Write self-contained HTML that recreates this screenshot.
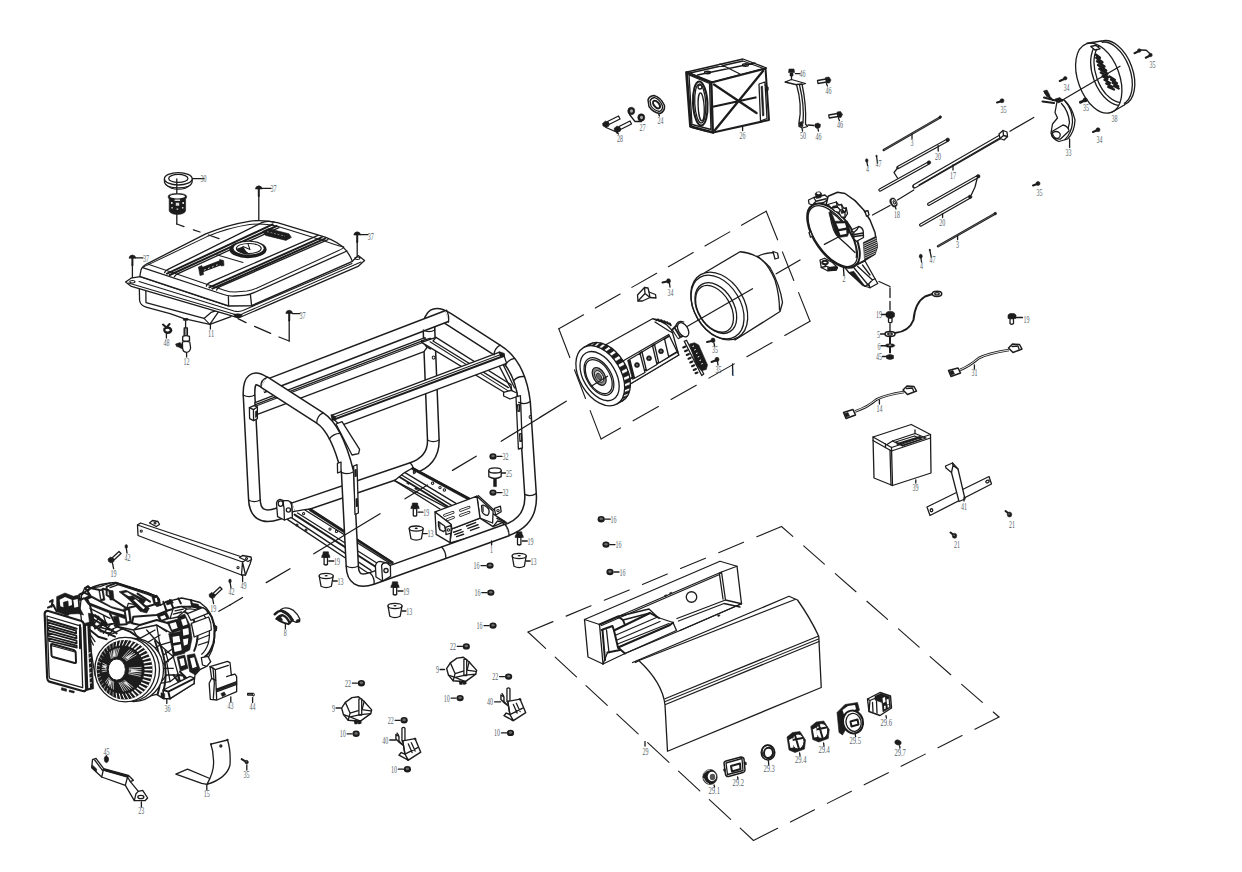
<!DOCTYPE html>
<html><head><meta charset="utf-8"><title>Generator exploded view</title>
<style>
html,body{margin:0;padding:0;background:#fff;}
body{width:1242px;height:872px;overflow:hidden;font-family:"Liberation Serif",serif;}
svg{display:block;position:absolute;left:0;top:0}
.l{fill:none;stroke:#1c1c1c;stroke-width:1.3;stroke-linecap:round;stroke-linejoin:round}
.t{fill:none;stroke:#1c1c1c;stroke-width:1.05;stroke-linecap:round;stroke-linejoin:round}
.h{fill:none;stroke:#1c1c1c;stroke-width:2;stroke-linecap:round;stroke-linejoin:round}
.w{fill:#fff;stroke:#1c1c1c;stroke-width:1.3;stroke-linecap:round;stroke-linejoin:round}
.dl{stroke-width:1.1}
.k{fill:#1c1c1c;stroke:#1c1c1c;stroke-width:.6;stroke-linejoin:round}
.g{fill:#555;stroke:#1c1c1c;stroke-width:.8}
.d{fill:none;stroke:#1c1c1c;stroke-width:1.3;stroke-dasharray:22 9}
path,ellipse,circle,rect,line,polyline,polygon{vector-effect:non-scaling-stroke}
text{font-family:"Liberation Serif",serif;font-size:10px;fill:#55646a;}
</style></head><body>
<svg width="1242" height="872" viewBox="0 0 1242 872">
<rect width="1242" height="872" fill="#fff"/>
<!-- 00.svg -->
<g></g>

<!-- 01_defs.svg -->
<defs>
<!-- small dark nut -->
<g id="nut"><ellipse cx="0" cy="0" rx="3.6" ry="3.2" fill="#1c1c1c"/><ellipse cx="0" cy="-.4" rx="1.7" ry="1.3" fill="#6a6a6a"/></g>
<!-- flange bolt vertical (head top) -->
<g id="fb"><path class="k" d="M-3.6 -1.5 L3.6 -1.5 L4.2 1 L-4.2 1Z M-2.6 -4.6 L2.6 -4.6 L3 -1.5 L-3 -1.5Z"/><path class="w" d="M-1.7 1 L-1.7 8 Q0 9.2 1.7 8 L1.7 1Z"/></g>
<!-- rubber foot -->
<g id="foot"><path class="w" d="M-7 -4 L-5.2 6.2 Q0 9 5.2 6.2 L7 -4"/><ellipse class="w" cx="0" cy="-4" rx="7" ry="2.6"/><ellipse cx="0" cy="-4.2" rx="1.6" ry=".8" fill="#1c1c1c"/></g>
<!-- small screw, head upper-left shaft toward lower-right -->
<g id="scr"><path class="k" d="M-3 -1.2 L-.6 -3 L2.2 -1.6 L1 1.2 L-1.8 1.6Z"/><path class="h" d="M1 .4 L4.2 3.4"/></g>
<!-- tank bolt 37 -->
<g id="tb"><path class="k" d="M-3.4 .4 Q-3.2 -2.4 0 -2.8 Q3.2 -2.4 3.4 .4Z"/><path class="h" d="M0 .5 L0 7.5"/></g>
</defs>

<!-- 10_tank.svg -->
<g id="tank">
<!-- cap 30 -->
<path class="l" d="M164.4 179.5 L164.6 182.6 Q166 187.6 178.3 187.9 Q190.6 187.6 192 182.6 L192.2 179.5"/>
<path class="t" d="M166 184.6 Q171 189.4 178.3 189.3 Q186 189.4 190.6 184.6"/>
<ellipse class="w" cx="178.3" cy="178.8" rx="13.9" ry="6.2"/>
<ellipse class="l" cx="178.3" cy="178.4" rx="9.6" ry="4"/>
<path class="l" d="M176.8 179 L176.8 193.5 M176.8 214 L176.8 224 "/>
<path class="l" d="M204 178.6 L192.5 178.6"/>
<text x="200.5" y="181.8" textLength="6.0" lengthAdjust="spacingAndGlyphs">30</text>
<!-- filter -->
<path class="k" d="M168.2 196.5 Q168 193.6 177.4 193.4 Q186.8 193.6 186.6 196.5 L186.4 198.2 L185.6 198.8 L185.6 211 Q184 214.4 177.4 214.4 Q170.8 214.4 169.2 211 L169.2 198.8 L168.4 198.2Z"/>
<ellipse cx="177.4" cy="196.4" rx="7.6" ry="2" fill="#fff"/>
<path d="M174.6 199.4h5.5v1.6h-5.5z M175.8 202.8h3.4v3h-3.4z M171 202h1.6v2h-1.6z M182.4 202h1.6v2h-1.6z M171.4 207h1.4v1.6h-1.4z M176.6 208.4h1.6v1.4h-1.6z M182 207h1.4v1.6h-1.4z" fill="#ddd"/>
<path class="l" d="M176.8 224 L184 226.6 M193.4 229.8 L200 232 M209 235.2 L218.4 238.4"/>
<!-- bolts 37 -->
<use href="#tb" x="258.8" y="188.6"/><path class="l" d="M258.8 196 L258.8 220"/>
<path class="l" d="M262 188.4 L271 188.4"/><text x="270.4" y="192" textLength="6.0" lengthAdjust="spacingAndGlyphs">37</text>
<use href="#tb" x="132.4" y="257.8"/><path class="l" d="M132.4 264 L132.4 281"/>
<path class="l" d="M135.6 257.8 L143 257.8"/><text x="143" y="262.4" textLength="6.0" lengthAdjust="spacingAndGlyphs">37</text>
<use href="#tb" x="357.2" y="234.6"/><path class="l" d="M357.2 241 L357.2 257"/>
<path class="l" d="M360.4 234.6 L368 234.6"/><text x="367.8" y="239.6" textLength="6.0" lengthAdjust="spacingAndGlyphs">37</text>
<use href="#tb" x="289.2" y="313"/><path class="l" d="M289.2 320 L289.2 341"/>
<path class="l" d="M292.4 313.6 L300 313.6"/><text x="299.6" y="318.8" textLength="6.0" lengthAdjust="spacingAndGlyphs">37</text>
<path class="l" d="M289.2 341 L279 337 M270.6 333.4 L254.6 326.4 M246 322.6 L238 318.6"/>
</g>

<!-- 11_tankbody.svg -->
<g id="tankbody">
<!-- lower body -->
<path class="l" d="M139.3 287.5 L139.6 300.5 Q140.4 305.4 146 307 L170 313.6 Q178 316.4 184 318.6 L209.8 324.4 L231 316.6"/>
<path class="l" d="M145.8 289.6 L146 302.6 L204 318.4 L211 312.4 L220 309.6"/>
<path class="l" d="M209.8 324.4 L218.6 311.6"/>
<path class="l" d="M218.6 311.6 L238 316.4"/>
<path class="t" d="M204 318.4 L209.8 324.4"/>
<!-- flange -->
<path class="w" d="M125.6 282 L131 278.2 L140 276.6 L228 305.8 L251.6 305.6 L352.6 261 L358.2 255.6 L364.6 260.4 L358 266.4 L243 316 Q238.4 318.6 233.6 316.4 L131.4 286.4Z"/>
<path class="t" d="M128.4 283 L232.6 313.8 Q238.4 316 243 313.6 L361 262"/>
<path class="t" d="M139 281.6 L234 311 Q238.4 312.2 243 310.4 L352 263.6"/>
<ellipse class="t" cx="132.4" cy="281.8" rx="2.6" ry="1.2"/>
<ellipse class="t" cx="357.4" cy="258.2" rx="2.6" ry="1.2"/>
<path class="k" d="M233.6 314.4 Q238 313 242.4 314.6 Q241 317.8 238 317.8 Q235 317.8 233.6 314.4Z"/>
<!-- upper body silhouette -->
<path class="w" d="M139.8 276.4 L141 270 Q142 266.6 147 263.8 L205.7 233.9 Q228 224.6 249.1 221.3 Q262 219.4 277.4 222.6 L325.2 237.2 Q339 242.4 345.4 249.6 Q350 255 352.4 261.4 L251.6 305.6 L228.6 305.8Z"/>
<!-- shoulder line (front) -->
<path class="l" d="M142.6 267.6 L222 294 Q228 296.4 234 296 L244 295.4 Q249 295 254 292.6 L347 251"/>
<path class="l" d="M228.4 296.6 L228.6 305.8 M250.4 294.6 L251.6 305.6"/>
<!-- top face inner edge -->
<path class="t" d="M149 264.4 L225 290.4 Q231 292.4 238 291.8 L247 291 Q252 290.4 256 288.4 L338.6 250.6 Q344 248 343.7 247"/>
<path class="t" d="M149 264.4 Q146 265 142.6 267.6"/>
<path class="t" d="M149 264.4 L207 236.6 Q229 227.6 249.6 224.6 Q262 223 276.6 226 L323 240.4 Q336 245 343.7 247"/>
<!-- left band -->
<path class="l" d="M164.6 272.6 Q165 270.8 168 269.4 L262 222.6 Q268 220.4 274 222"/>
<path class="h" d="M169.8 275 L276.6 226"/>
<path class="h" d="M167 273.6 L272.6 224.4"/>
<path class="l" d="M174.4 276.8 Q175 275 178 273.6 L279 227.6"/>
<!-- right band -->
<path class="l" d="M206.4 286.2 Q206.6 284 210 282.4 L318 235.4"/>
<path class="h" d="M209.4 287.4 L321.6 237.4"/>
<path class="h" d="M212.4 288.6 L325 238.6"/>
<path class="l" d="M216.6 290 Q217 288 220 286.6 L328 239.6"/>
<!-- center cross line -->
<path class="t" d="M216.6 254.8 L243 262.4"/>
<!-- cap hole -->
<ellipse cx="248" cy="249.4" rx="18.6" ry="8.8" fill="#1c1c1c"/>
<ellipse cx="248.6" cy="248.2" rx="15" ry="6.4" fill="#fff"/>
<ellipse class="t" cx="248.8" cy="248.4" rx="12.4" ry="5"/>
<path d="M236 249 Q240 254.6 250 254.6 Q245 251 243 246.6Z" fill="#1c1c1c"/>
<path class="t" d="M243 246.6 L250 249.6 L248 244"/>
<!-- gauge -->
<path class="k" d="M262.4 231.4 L268.4 228.6 L289 233.8 L291.4 237.4 L286 240.4 L265.6 235.4Z"/>
<path d="M267 231.6 L285 236.2" stroke="#aaa" stroke-width=".7" stroke-dasharray="2 1.6" fill="none"/>
<!-- logo -->
<path d="M200.6 270.4 L221.6 262.4" stroke="#1c1c1c" stroke-width="5" fill="none"/>
<path class="k" d="M198.4 267 L202 265.6 L203.6 274.6 L200 275.6Z M219.6 259.4 L223.6 260.6 L224 265.6 L221 266Z"/>
<path d="M204 270.2l1.6-.7 M208 268.6l1.6-.7 M212 267l1.6-.7 M216 265.4l1.6-.7" stroke="#fff" stroke-width=".8"/>
<!-- leader 11 -->
<path class="l" d="M210.4 324.6 L210.4 329"/><text x="208" y="337.4" textLength="6.0" lengthAdjust="spacingAndGlyphs">11</text>
<!-- clamp 48 -->
<path class="h" d="M163 324.6 L166.4 327.4 L169.6 324 M164.4 328.4 Q163.6 331.6 166.8 333 Q170.4 333.4 171.4 330.4 Q171 327.6 167.6 327.2"/>
<ellipse class="l" cx="167.4" cy="330.2" rx="3" ry="2"/>
<path class="l" d="M166.4 334 L166.4 338"/><text x="163.4" y="346.4" textLength="6.0" lengthAdjust="spacingAndGlyphs">48</text>
<!-- valve 12 -->
<path class="k" d="M183 318.4 L188 318.6 L187.4 320.4 L183.6 320.4Z"/>
<path class="l" d="M185.6 321 L185.6 328"/>
<path class="w" d="M184.2 328 L187.4 328 L187.4 336 L184.2 336Z"/>
<path class="t" d="M184.2 330h3.2 M184.2 332h3.2 M184.2 334h3.2"/>
<path class="w" d="M182.8 336.4 Q186 334.8 189.4 336.4 L189.6 340.6 Q186 342.4 182.6 340.6Z"/>
<path class="k" d="M175.6 344 L180 342.6 L183.4 345.4 L184.4 349 L181.4 348.6 L178.6 347 L176.6 346.6Z"/>
<path class="w" d="M182.4 342 Q186 340.6 189.8 342 L190.6 348 Q190 352 186.4 352.4 Q183 352 182.6 348.4Z"/>
<path class="l" d="M186.6 353 L186.6 357"/><text x="183.6" y="364.6" textLength="6.0" lengthAdjust="spacingAndGlyphs">12</text>
</g>

<!-- 12_tankdash.svg -->
<g><path class="l" d="M208.6 235 L219 238.6"/></g>

<!-- 20_frame_back.svg -->
<g id="frame">
<path d="M507 530 Q532.5 520.8 530.5 494 L524.5 402 C521 374 510 358 497 350 L448 318.5 Q428.5 306 429 330 L433.3 440 Q433.8 460.7 412 468.2 L294 508.4" fill="none" stroke="#1c1c1c" stroke-width="13.1" stroke-linecap="butt" stroke-linejoin="round" />
<path d="M507 530 Q532.5 520.8 530.5 494 L524.5 402 C521 374 510 358 497 350 L448 318.5 Q428.5 306 429 330 L433.3 440 Q433.8 460.7 412 468.2 L294 508.4" fill="none" stroke="#fff" stroke-width="10.1" stroke-linecap="butt" stroke-linejoin="round" />
<path d="M262 387.2 L447 316" fill="none" stroke="#1c1c1c" stroke-width="12.9" stroke-linecap="butt" stroke-linejoin="round" />
<path d="M262 387.2 L447 316" fill="none" stroke="#fff" stroke-width="9.9" stroke-linecap="butt" stroke-linejoin="round" />
<path class="l" d="M446.6 310.2 Q449.6 316 448.4 322"/>
<path d="M294 508.4 L278 513.8 Q254.8 521.7 254.3 498 L249 394 Q248.6 372 264 382" fill="none" stroke="#1c1c1c" stroke-width="13.1" stroke-linecap="butt" stroke-linejoin="round" />
<path d="M294 508.4 L278 513.8 Q254.8 521.7 254.3 498 L249 394 Q248.6 372 264 382" fill="none" stroke="#fff" stroke-width="10.1" stroke-linecap="butt" stroke-linejoin="round" />
</g>

<!-- 24_frame_rails.svg -->
<g id="rails">
<!-- angle iron 1 under rail 1: from left post to back post -->
<path class="w" d="M255 402.6 L425 337.6 L425.6 340 L428 341 L428 346 L424 351.6 L257.4 414.4 L255.4 413Z"/>
<path class="l" d="M255.4 404.6 L425.6 339.6"/>
<path class="t" d="M256 406 L424 342"/>
<!-- bracket at back post -->
<path class="w" d="M421.6 340.8 L430 338.4 L434.6 341 L434.4 347 L430.4 349 L426.4 346.6Z"/>
<path class="l" d="M426.4 346.6 L426.6 342.6 L434.6 341 M426.6 342.6 L421.6 340.8"/>
<ellipse class="t" cx="433.6" cy="357.6" rx="1.4" ry="1.6"/>
<!-- diagonal brace back post -> right post -->
<path class="w" d="M432.4 338.6 L436 337.4 L511 384.6 L512.4 398 L509.6 398.4 L507 394 L421.6 342.4 Z"/>
<path class="l" d="M436 337.4 L433 341 L508.4 387.6"/>
<path class="t" d="M430 341.8 L509 391.4"/>
<path class="l" d="M499 365.6 L512 390.6 M503 364.4 L514.6 388"/>
<!-- right bracket + strap on right post -->
<path class="w" d="M503.6 392.4 L511 390.4 L517 393 L517 396.6 L510 399 L503.6 396Z"/>
<path class="w" d="M516 397 L520.4 395.6 L522.4 448 L518.4 449Z"/>
<path class="l" d="M517.6 405 L519.4 404.6 L519.8 411 L518 411.4Z M519.6 434 L521.4 433.6 L521.8 441 L520 441.4Z"/>
<ellipse class="t" cx="530.4" cy="417" rx="1.3" ry="1.5"/>
</g>

<!-- 25_frame_rails2.svg -->
<g id="rails2">
<!-- bottom cross rail B (back/right) -->
<path class="w" d="M394.6 480.6 L404.6 472.6 L412.6 468 L470 499 L505 521.6 L499 529 L455 512 Z"/>
<path class="h" d="M412.6 468 L470 499"/>
<path class="k" d="M412.6 467.6 L470 498.6 L468.6 500.2 L411.4 469.2Z"/>
<path class="l" d="M405 472.6 L456 503.4 M401.6 475 L452 505.6"/>
<path class="h" d="M399.6 477 L449 507.4"/>
<path class="l" d="M394.6 480.6 L440 509"/>
<circle class="t" cx="414.4" cy="472" r="1.2"/><circle class="t" cx="432.6" cy="483.2" r="1.2"/><circle class="t" cx="440" cy="487.6" r="1.2"/><circle class="t" cx="444.4" cy="490" r="1.2"/>
<path class="k" d="M407.6 482 l2.4 1.2 l-1 1.2 l-2.4 -1.2Z M415.6 487.6 l2.4 1.2 l-1 1.2 l-2.4 -1.2Z"/>
<!-- bottom cross rail A (front/left) -->
<path class="w" d="M287.6 519.6 L293 511.6 L304.6 509.6 L311 509 L393 562.4 L392 568 L368 573Z"/>
<path class="h" d="M294.6 514.6 L376 567"/>
<path class="l" d="M291 517.4 L371 570.4 M297.6 513 L380 565 M305 510 L391 564"/>
<circle class="t" cx="303.6" cy="513.6" r="1.1"/><circle class="t" cx="330" cy="529" r="1.1"/><circle class="t" cx="336.4" cy="531.4" r="1.1"/><circle class="t" cx="306" cy="530" r="1"/><circle class="t" cx="297" cy="525" r="1"/>
<path class="k" d="M310.6 509 L393 562.4 L391.6 563.6 L309 510.4Z"/>
<!-- left bracket at bottom-back tube -->
<path class="w" d="M276.6 505 Q276 500.6 280 499.4 L283.6 500.6 L291.6 502.4 L292.4 517 L284.4 520 L277.6 516.6Z"/>
<path class="w" d="M283.6 500.6 Q283 504 284 508 L284.4 520 L292.4 517 L291.6 505 Q290 500 286.6 500.6Z"/>
<circle class="l" cx="288.4" cy="510" r="2.1"/>
<ellipse class="l" cx="280.6" cy="503.6" rx="2.4" ry="2.8"/>
<!-- second top rail (square) -->
<path class="w" d="M331.4 415.4 L499 352.4 L503.6 354.4 L506.6 363.4 L340.6 425.6 L335 420.4Z"/>
<path class="h" d="M334.4 419.4 L503.6 356"/>
<path class="t" d="M333 417.4 L501.6 354.2"/>
<path class="k" d="M331 414.6 L335.6 416.6 L336 420 L332 420.4Z M499 351.6 L504.4 353.4 L504.6 357 L500 356Z"/>
<!-- small plate under top-front tube near front-right post -->
<path class="w" d="M336 424 L342 421.6 L359.6 449.4 L358.6 453.6 L352 455Z"/>
</g>

<!-- 26_tray.svg -->
<g id="tray">
<!-- floor -->
<path class="w" d="M451.9 528.9 L480 518.1 L493 526.6 L503 522.4 L505 527.6 L450 543Z"/>
<!-- right wall inside -->
<path class="w" d="M476.9 496.2 L493.1 511.2 L492.6 523 L480 518.1Z"/>
<path class="l" d="M478.2 495.6 L494.2 510.2"/>
<!-- back wall inside -->
<path class="w" d="M435 511.9 L476.9 496.2 L480 518.1 L451.9 528.9 L451.2 524.4Z"/>
<!-- left wall outside -->
<path class="w" d="M435 511.9 L451.2 524.4 L450 542.6 L436.2 534.4Z"/>
<!-- D cutout -->
<path class="l" d="M438.4 521.6 L444.6 526 L445.4 530 L443.6 531.6 L439.6 529.6 Q438 526 438.4 521.6Z"/>
<path class="t" d="M439.8 523.6 L439.8 529.4"/>
<!-- front-left tab -->
<path class="w" d="M445.6 527.4 L451.2 525.4 L451 533 L446 534.6Z"/>
<circle class="t" cx="448.4" cy="530" r="1.2"/>
<!-- slots back wall -->
<g fill="none" stroke="#1c1c1c" stroke-width="1.1" stroke-linecap="round">
<path d="M444.6 515.4 L453 512.4 M447.4 519.6 L453.4 517.4 M460.6 510.4 L469 507.2 M460.6 515.4 L469 512.2" stroke-width="2.8"/>
<path d="M444.6 515.4 L453 512.4 M447.4 519.6 L453.4 517.4 M460.6 510.4 L469 507.2 M460.6 515.4 L469 512.2" stroke="#fff" stroke-width="1.2"/>
</g>
<!-- floor slots -->
<g fill="none" stroke="#1c1c1c" stroke-width="1.5" stroke-linecap="round">
<path d="M453.6 532.2 L461 529.6 M454.8 534.6 L463 531.6 M456.6 536.6 L463.6 534.2"/>
<path d="M466.6 526 L475.6 522.6 M468 528.4 L478 524.8 M470.6 530.4 L479 527.4"/>
</g>
<!-- teardrop -->
<path class="w" d="M481.6 505.6 Q484 503.6 488.6 509 Q490 513 487.6 515.4 Q483.6 515 482 511.4Z"/>
<path class="t" d="M483 506.6 L483.2 511.4"/>
<!-- right tab -->
<path class="w" d="M494.4 508.4 L500.4 506.2 L501.2 511.8 L495.6 515Z"/>
<circle class="t" cx="498" cy="510.6" r="1.2"/>
<path class="l" d="M493 526.6 L497.6 521 M497.6 521 L503 522.4"/>
<path class="k" d="M497 517.4 L507 522.4 L506 523.6 L496.4 518.6Z"/>
</g>

<!-- 28_frame_front.svg -->
<g id="framefront">
<path d="M264 382 L320 418 C330 424.5 340 442 347.5 472 L352.3 566 Q352.8 585 372 578.4 L507 530" fill="none" stroke="#1c1c1c" stroke-width="13.7" stroke-linecap="butt" stroke-linejoin="round" />
<path d="M264 382 L320 418 C330 424.5 340 442 347.5 472 L352.3 566 Q352.8 585 372 578.4 L507 530" fill="none" stroke="#fff" stroke-width="10.7" stroke-linecap="butt" stroke-linejoin="round" />
<path class="l" d="M243.2 395.0 Q249.0 398.2 254.8 395.0"/>
<path class="l" d="M261.1 387.4 Q260.2 379.6 267.7 377.2"/>
<path class="l" d="M316.7 423.1 Q316.6 415.8 323.3 412.9"/>
<path class="l" d="M329.3 439.0 Q333.3 433.5 340.1 433.4"/>
<path class="l" d="M341.4 472.3 Q347.5 475.4 353.6 471.7"/>
<path class="l" d="M346.2 566.0 Q352.3 569.4 358.4 566.0"/>
<path class="l" d="M374.1 584.1 Q374.8 577.4 369.9 572.7"/>
<path class="l" d="M445.9 558.4 Q446.1 551.9 441.7 547.0"/>
<path class="l" d="M509.1 535.7 Q509.3 529.2 504.9 524.3"/>
<path class="l" d="M536.3 493.6 Q530.5 497.2 524.7 494.4"/>
<path class="l" d="M530.3 401.6 Q524.5 405.2 518.7 402.4"/>
<path class="l" d="M494.0 354.9 Q494.4 348.4 500.0 345.1"/>
<path class="l" d="M505.4 365.4 Q508.2 359.5 514.6 358.4"/>
<path class="l" d="M513.6 380.7 Q518.0 375.9 524.5 376.6"/>
<path class="l" d="M423.2 330.0 Q429.0 333.2 434.8 330.0"/>
<path class="l" d="M427.5 440.0 Q433.3 443.2 439.1 440.0"/>
<path class="l" d="M410.1 462.7 Q414.5 467.4 413.9 473.7"/>
<path class="l" d="M248.5 500.0 Q254.3 503.2 260.1 500.0"/>
</g>

<!-- 29_frame_front2.svg -->
<g id="framefront2">
<!-- front bracket at front-right post bottom -->
<path class="w" d="M375.4 566.4 Q376 561.6 380 561.4 L388.6 563.4 L390.4 575 L382.4 581 L376 577Z"/>
<path class="w" d="M381.6 565.6 Q383 562 387 563 L390.4 566 L390.6 576.4 L382.6 581 Z"/>
<circle class="l" cx="386" cy="570.6" r="2.1"/>
<!-- tab brackets on front-right post -->
<path class="w" d="M337.4 463.4 L341 462 L341 471.6 L337.6 473Z"/>
<path class="w" d="M353.6 466 L357 464.6 L358.4 513 L355 514.4Z"/>
<path class="l" d="M355 470 L356 469.6 L356.2 476 L355.2 476.4Z M356.2 499 L357.2 498.6 L357.4 506 L356.4 506.4Z"/>
<!-- tab on left post -->
<path class="w" d="M249.4 407.6 L254 405.6 L257.4 407 L257.4 418.6 L253.6 420.6 L249.6 418.6Z"/>
<path class="l" d="M253.6 420.6 L253.4 409.6 L257.4 407 M253.4 409.6 L249.4 407.6"/>
<path class="k" d="M255.4 411.4 L257.2 410.6 L257.2 416.6 L255.4 417.4Z"/>
<!-- leader 1 -->
<path class="l" d="M491.6 541 L491.6 545"/><text x="490" y="552.6" textLength="3.0" lengthAdjust="spacingAndGlyphs">1</text>
</g>

<!-- 30_small.svg -->
<g id="small">
<use href="#nut" x="493.0" y="456.4" />
<path class="l" d="M497.0 456.4 L502.0 456.4"/>
<text x="502.4" y="460.0" textLength="6.0" lengthAdjust="spacingAndGlyphs">32</text>
<use href="#nut" x="493.0" y="492.6" />
<path class="l" d="M497.0 492.6 L502.0 492.6"/>
<text x="502.4" y="496.2" textLength="6.0" lengthAdjust="spacingAndGlyphs">32</text>
<path class="w" d="M488.8 470.6 L488.8 476.6 Q495 480.4 501.2 476.6 L501.2 470.6"/>
<ellipse class="w" cx="495" cy="470.4" rx="6.2" ry="2.6"/>
<path class="k" d="M493.6 478.6 L496.4 478.6 L496.4 486.6 L493.6 486.6Z"/>
<path class="l" d="M501.6 473.0 L505.6 473.0"/>
<text x="506.0" y="476.6" textLength="6.0" lengthAdjust="spacingAndGlyphs">25</text>
<use href="#fb" x="415.0" y="507.6" />
<path class="l" d="M418.0 512.2 L423.0 512.2"/>
<text x="423.2" y="516.0" textLength="6.0" lengthAdjust="spacingAndGlyphs">19</text>
<use href="#foot" x="416.2" y="532.6" />
<path class="l" d="M423.2 533.6 L427.2 533.6"/>
<text x="427.4" y="537.2" textLength="6.0" lengthAdjust="spacingAndGlyphs">13</text>
<use href="#fb" x="519.2" y="536.4" />
<path class="l" d="M522.2 541.0 L527.2 541.0"/>
<text x="527.4" y="544.8" textLength="6.0" lengthAdjust="spacingAndGlyphs">19</text>
<use href="#foot" x="519.2" y="560.0" />
<path class="l" d="M526.2 561.0 L530.2 561.0"/>
<text x="530.4" y="564.6" textLength="6.0" lengthAdjust="spacingAndGlyphs">13</text>
<use href="#fb" x="325.8" y="556.4" />
<path class="l" d="M328.8 561.0 L333.8 561.0"/>
<text x="334.0" y="564.8" textLength="6.0" lengthAdjust="spacingAndGlyphs">19</text>
<use href="#foot" x="326.2" y="580.0" />
<path class="l" d="M333.2 581.0 L337.2 581.0"/>
<text x="337.4" y="584.6" textLength="6.0" lengthAdjust="spacingAndGlyphs">13</text>
<use href="#fb" x="395.0" y="586.4" />
<path class="l" d="M398.0 591.0 L403.0 591.0"/>
<text x="403.2" y="594.8" textLength="6.0" lengthAdjust="spacingAndGlyphs">19</text>
<use href="#foot" x="395.0" y="610.0" />
<path class="l" d="M402.0 611.0 L406.0 611.0"/>
<text x="406.2" y="614.6" textLength="6.0" lengthAdjust="spacingAndGlyphs">13</text>
<use href="#nut" x="490.0" y="565.6" />
<path class="l" d="M481.0 565.6 L486.0 565.6"/>
<text x="473.6" y="569.2" textLength="6.0" lengthAdjust="spacingAndGlyphs">16</text>
<use href="#nut" x="490.8" y="592.6" />
<path class="l" d="M481.8 592.6 L486.8 592.6"/>
<text x="474.4" y="596.2" textLength="6.0" lengthAdjust="spacingAndGlyphs">16</text>
<use href="#nut" x="493.0" y="625.6" />
<path class="l" d="M484.0 625.6 L489.0 625.6"/>
<text x="476.6" y="629.2" textLength="6.0" lengthAdjust="spacingAndGlyphs">16</text>
<use href="#nut" x="601.2" y="519.2" />
<path class="l" d="M605.2 519.2 L610.2 519.2"/>
<text x="610.6" y="522.8" textLength="6.0" lengthAdjust="spacingAndGlyphs">16</text>
<use href="#nut" x="606.0" y="544.6" />
<path class="l" d="M610.0 544.6 L615.0 544.6"/>
<text x="615.4" y="548.2" textLength="6.0" lengthAdjust="spacingAndGlyphs">16</text>
<use href="#nut" x="610.0" y="572.0" />
<path class="l" d="M614.0 572.0 L619.0 572.0"/>
<text x="619.4" y="575.6" textLength="6.0" lengthAdjust="spacingAndGlyphs">16</text>
<path class="l" d="M540.0 417.5 L501.2 441.2"/>
<path class="l" d="M476.2 456.2 L452.5 470.4"/>
<path class="l" d="M427.5 485.0 L405.0 498.8"/>
<path class="l" d="M380.0 513.8 L313.8 553.8"/>
<path class="l" d="M290.0 568.8 L266.2 582.6"/>
<path class="l" d="M242.5 597.5 L230.0 605.0"/>
</g>

<!-- 40_engine.svg -->
<g id="engine" transform="translate(40,575) scale(0.16667)">
<!-- silhouette -->
<path class="w" d="M268 78 L285 66 L300 78 L360 70 L420 48 L455 44 L640 104 L700 128 L716 150 L722 182 L760 160 L850 138 L905 150 L960 165 L1000 200 L1022 232 L1046 300 L1056 320 L1046 345 L1046 400 L1030 455 L1008 500 L1024 520 L1000 548 L962 566 L930 600 L924 650 L780 742 L740 742 L700 716 L600 740 L420 700 L330 600 L300 420 L250 280 L240 200 L250 120Z"/>
<!-- right crankcase / cylinder -->
<path class="h" d="M900 190 Q985 175 1030 250 Q1060 330 1040 410 Q1020 470 990 490"/>
<path class="l" d="M880 205 Q960 195 1000 265 Q1028 335 1010 410 Q995 455 970 475"/>
<path class="l" d="M905 300 L1000 262 M915 330 L1012 300 M940 390 L1016 360 M950 420 L1012 400"/>
<path class="h" d="M860 215 Q930 250 945 330 Q950 400 925 455"/>
<path class="w" d="M885 232 L975 196 Q1000 205 1008 230 L905 272Z"/>
<path class="w" d="M908 290 L1012 252 Q1030 290 1028 330 L925 372Z"/>
<path class="l" d="M1046 300 L1060 310 L1058 332 L1046 338"/>
<path class="k" d="M826 252 L868 234 L900 300 L912 380 L898 450 L862 468 L852 380Z"/>
<path d="M846 268 L874 260 L886 296 L858 306Z M856 326 L890 318 L894 356 L860 364Z M858 386 L890 380 L886 416 L860 426Z" fill="#fff"/>
<path class="w" d="M968 496 L1008 488 L1024 520 L1000 548 L975 540Z"/>
<!-- top: valve cover -->
<path class="h" d="M400 70 L455 48 L640 106 L700 130 L716 152 L700 172 L640 190 L600 180 L520 200 L400 120Z"/>
<path class="l" d="M420 76 L470 58 L650 118 L690 136 M455 48 L470 58 M520 200 L530 170 L640 190"/>
<path class="k" d="M474 100 L516 92 L636 150 L618 176 L560 168Z"/>
<path d="M500 108 L524 104 L596 148 L582 158Z" fill="#fff"/>
<path class="k" d="M522 132 L556 124 L656 200 L640 228 L600 218Z"/>
<path d="M560 150 L574 146 L630 196 L620 206Z" fill="#fff"/>
<path class="h" d="M585 112 L660 160"/>
<path class="k" d="M672 132 L700 120 L716 142 L720 184 L700 190 L682 170Z"/>
<path d="M688 140 L700 136 L706 160 L694 164Z" fill="#fff"/>
<!-- tubes/pipe top-left -->
<path class="k" d="M262 140 L300 120 L430 190 L520 215 L540 250 L510 262 L420 230 L290 178Z"/>
<path d="M290 146 L310 138 L430 200 L505 222 L512 240 L430 218 L300 166Z" fill="#fff"/>
<path class="h" d="M270 80 L290 68 L300 82 L285 96Z M285 96 L300 122"/>
<path class="k" d="M352 88 L378 82 L390 150 L364 158Z M412 92 L438 94 L444 150 L420 150Z"/>
<path d="M360 96 L370 94 L378 140 L368 144Z" fill="#fff"/>
<path class="h" d="M236 118 L262 104 L300 122 M236 118 L240 150 L262 140 M300 78 L352 88 M378 82 L412 92"/>
<path class="l" d="M250 120 Q300 60 420 48"/>
<!-- mid body -->
<path class="k" d="M502 202 L538 198 L550 288 L517 294Z"/>
<path d="M514 214 L528 212 L536 276 L524 280Z" fill="#fff"/>
<path class="h" d="M300 180 L330 320 M320 240 L400 300 L450 290 M420 232 L455 300 M330 320 L360 300 L400 300 M350 250 L380 300 M455 300 L520 296"/>
<path class="l" d="M300 200 L420 260 M310 300 L420 330 L470 310 M360 340 L440 350 L500 320 M380 240 L400 300"/>
<path class="k" d="M290 230 L318 232 L328 300 L300 308Z"/>
<path class="k" d="M440 250 L470 246 L480 300 L452 306Z"/>
<path class="h" d="M560 250 L700 240 L760 215 L850 190 L900 190 M560 250 L552 290 L600 300"/>
<path class="k" d="M702 242 L758 220 L778 262 L720 280Z"/>
<path d="M720 250 L748 240 L758 258 L730 268Z" fill="#fff"/>
<path class="h" d="M740 160 L760 218 M780 150 L800 200 L850 190 M830 140 L845 170 M905 150 L915 188 L950 200"/>
<path class="k" d="M752 158 L790 148 L800 168 L762 180Z M905 168 L950 176 L958 200 L915 192Z"/>
<path class="w" d="M800 200 L850 190 L880 205 L826 252 L780 262Z"/>
<path class="l" d="M810 215 L860 205 M800 235 L850 222"/>
<path class="k" d="M762 282 L828 264 L848 330 L792 348Z"/>
<path d="M778 292 L815 282 L826 318 L792 328Z" fill="#fff"/>
<path class="k" d="M772 352 L848 338 L868 470 L802 488Z"/>
<path d="M790 372 L835 364 L842 400 L798 408Z M800 424 L845 416 L850 452 L808 462Z" fill="#fff"/>
<path class="h" d="M300 290 L360 330 L450 370 M310 260 L380 300 L460 350 M330 240 L400 290 M300 330 L350 370 L400 385"/>
<path class="l" d="M320 300 L350 260 M350 330 L390 280 M380 350 L420 300 M410 365 L440 325 M296 350 L330 400 M300 380 L320 420"/>
<!-- shroud facets -->
<path class="l" d="M560 330 L700 300 L790 350 L800 490 L830 600 L780 640 M700 300 L720 420 L800 490 M720 420 L640 470 M640 330 L720 420 M560 330 L640 470 L700 560 L800 490 M700 560 L720 650 L780 640 M640 470 L720 650 M600 300 L560 330 M470 310 L560 330"/>
<path class="h" d="M600 300 L700 270 L770 290 M448 304 L540 340 L600 380"/>
<path class="l" d="M600 380 L690 330 M620 420 L720 360 M700 300 L760 340 M720 420 L790 400 M740 480 L800 440 M700 560 L760 520 L800 490 M720 650 L760 600 L830 600 M760 520 L780 640 M740 560 L800 560 M750 450 L770 520"/>
<path class="h" d="M690 396 Q750 560 706 716 M716 404 Q776 560 740 700"/>
<!-- lower right engine block bits -->
<path class="k" d="M822 492 L868 480 L888 560 L842 578Z"/>
<path d="M836 504 L862 498 L870 540 L846 548Z" fill="#fff"/>
<path class="k" d="M882 482 L928 472 L960 566 L930 598 L898 580Z"/>
<path d="M900 500 L925 494 L940 550 L915 560Z" fill="#fff"/>
<path class="h" d="M830 600 L924 650 M840 580 L880 620 M800 600 L830 640"/>
<path class="k" d="M822 592 L868 602 L878 640 L832 640Z"/>
<path d="M838 606 L858 610 L862 628 L842 628Z" fill="#fff"/>
<!-- base foot -->
<path class="w" d="M740 690 L900 608 L926 618 L924 652 L780 742 L740 742Z"/>
<path class="h" d="M740 690 L770 700 L924 622 M770 700 L780 742"/>
<path class="k" d="M726 706 L748 712 L748 740 L726 734Z"/>
</g>
<g id="englabels">
<path class="l" d="M166.8 698.6 L166.8 703.4"/><text x="164.4" y="712.4" textLength="6.0" lengthAdjust="spacingAndGlyphs">36</text>
</g>

<!-- 41_fan.svg -->
<g id="fan">
<ellipse class="w" cx="133.7" cy="669.9" rx="29.8" ry="31.6"/>
<ellipse class="w" cx="129.7" cy="669.8" rx="29.8" ry="31.6"/>
<ellipse cx="125.2" cy="669.6" rx="30.4" ry="32.2" fill="#fff" stroke="#1c1c1c" stroke-width="1.3"/>
<ellipse cx="124.6" cy="669.8" rx="28.0" ry="29.8" fill="#1c1c1c"/>
<path d="M144.5 669.6 L152.4 669.6" stroke="#fff" stroke-width="1.50" fill="none"/>
<path d="M144.3 673.0 L152.1 673.8" stroke="#fff" stroke-width="1.50" fill="none"/>
<path d="M143.6 676.4 L151.2 677.9" stroke="#fff" stroke-width="1.50" fill="none"/>
<path d="M142.5 679.6 L149.9 681.9" stroke="#fff" stroke-width="1.50" fill="none"/>
<path d="M141.0 682.6 L148.0 685.6" stroke="#fff" stroke-width="1.50" fill="none"/>
<path d="M139.1 685.4 L145.6 689.0" stroke="#fff" stroke-width="1.50" fill="none"/>
<path d="M136.9 687.8 L142.8 691.9" stroke="#fff" stroke-width="1.50" fill="none"/>
<path d="M134.3 689.8 L139.6 694.5" stroke="#fff" stroke-width="1.50" fill="none"/>
<path d="M131.6 691.5 L136.1 696.5" stroke="#fff" stroke-width="1.50" fill="none"/>
<path d="M128.6 692.7 L132.4 698.0" stroke="#fff" stroke-width="1.00" fill="none"/>
<path d="M125.5 693.4 L128.6 698.9" stroke="#fff" stroke-width="1.00" fill="none"/>
<path d="M122.3 693.7 L124.6 699.2" stroke="#fff" stroke-width="1.00" fill="none"/>
<path d="M119.2 693.4 L120.7 698.9" stroke="#fff" stroke-width="1.00" fill="none"/>
<path d="M116.1 692.7 L116.8 698.0" stroke="#fff" stroke-width="1.00" fill="none"/>
<path d="M113.1 691.5 L113.1 696.5" stroke="#fff" stroke-width="0.55" fill="none"/>
<path d="M110.3 689.8 L109.6 694.5" stroke="#fff" stroke-width="0.55" fill="none"/>
<path d="M107.8 687.8 L106.4 691.9" stroke="#fff" stroke-width="0.55" fill="none"/>
<path d="M105.6 685.4 L103.6 689.0" stroke="#fff" stroke-width="0.55" fill="none"/>
<path d="M103.7 682.6 L101.3 685.6" stroke="#fff" stroke-width="0.55" fill="none"/>
<path d="M102.2 679.6 L99.4 681.9" stroke="#fff" stroke-width="0.55" fill="none"/>
<path d="M101.0 676.4 L98.0 677.9" stroke="#fff" stroke-width="0.55" fill="none"/>
<path d="M100.4 673.0 L97.1 673.8" stroke="#fff" stroke-width="0.55" fill="none"/>
<path d="M100.1 669.6 L96.9 669.6" stroke="#fff" stroke-width="0.55" fill="none"/>
<path d="M100.4 666.2 L97.1 665.4" stroke="#fff" stroke-width="0.55" fill="none"/>
<path d="M101.0 662.8 L98.0 661.3" stroke="#fff" stroke-width="0.55" fill="none"/>
<path d="M102.2 659.6 L99.4 657.3" stroke="#fff" stroke-width="0.55" fill="none"/>
<path d="M103.7 656.6 L101.3 653.6" stroke="#fff" stroke-width="0.55" fill="none"/>
<path d="M105.6 653.8 L103.6 650.2" stroke="#fff" stroke-width="0.55" fill="none"/>
<path d="M107.8 651.4 L106.4 647.3" stroke="#fff" stroke-width="0.55" fill="none"/>
<path d="M110.3 649.4 L109.6 644.7" stroke="#fff" stroke-width="0.55" fill="none"/>
<path d="M113.1 647.7 L113.1 642.7" stroke="#fff" stroke-width="0.55" fill="none"/>
<path d="M116.1 646.5 L116.8 641.2" stroke="#fff" stroke-width="1.00" fill="none"/>
<path d="M119.2 645.8 L120.7 640.3" stroke="#fff" stroke-width="1.00" fill="none"/>
<path d="M122.3 645.5 L124.6 640.0" stroke="#fff" stroke-width="1.00" fill="none"/>
<path d="M125.5 645.8 L128.6 640.3" stroke="#fff" stroke-width="1.00" fill="none"/>
<path d="M128.6 646.5 L132.4 641.2" stroke="#fff" stroke-width="1.50" fill="none"/>
<path d="M131.6 647.7 L136.1 642.7" stroke="#fff" stroke-width="1.50" fill="none"/>
<path d="M134.3 649.4 L139.6 644.7" stroke="#fff" stroke-width="1.50" fill="none"/>
<path d="M136.9 651.4 L142.8 647.3" stroke="#fff" stroke-width="1.50" fill="none"/>
<path d="M139.1 653.8 L145.6 650.2" stroke="#fff" stroke-width="1.50" fill="none"/>
<path d="M141.0 656.6 L148.0 653.6" stroke="#fff" stroke-width="1.50" fill="none"/>
<path d="M142.5 659.6 L149.9 657.3" stroke="#fff" stroke-width="1.50" fill="none"/>
<path d="M143.6 662.8 L151.2 661.3" stroke="#fff" stroke-width="1.50" fill="none"/>
<path d="M144.3 666.2 L152.1 665.4" stroke="#fff" stroke-width="1.50" fill="none"/>
<path d="M128.9 669.6 L141.6 669.6" stroke="#fff" stroke-width=".7" fill="none"/>
<path d="M128.8 671.0 L141.5 671.9" stroke="#fff" stroke-width=".7" fill="none"/>
<path d="M128.6 672.3 L141.2 674.2" stroke="#fff" stroke-width=".7" fill="none"/>
<path d="M128.3 673.6 L140.7 676.4" stroke="#fff" stroke-width=".7" fill="none"/>
<path d="M124.3 680.2 L133.3 687.4" stroke="#fff" stroke-width=".7" fill="none"/>
<path d="M123.3 680.9 L131.6 688.7" stroke="#fff" stroke-width=".7" fill="none"/>
<path d="M122.3 681.5 L129.7 689.7" stroke="#fff" stroke-width=".7" fill="none"/>
<path d="M121.2 682.0 L127.7 690.5" stroke="#fff" stroke-width=".7" fill="none"/>
<path d="M120.1 682.4 L125.7 691.1" stroke="#fff" stroke-width=".7" fill="none"/>
<path d="M119.0 682.6 L123.6 691.5" stroke="#fff" stroke-width=".7" fill="none"/>
<path d="M113.3 681.5 L113.3 689.7" stroke="#fff" stroke-width=".7" fill="none"/>
<path d="M112.3 680.9 L111.4 688.7" stroke="#fff" stroke-width=".7" fill="none"/>
<path d="M111.3 680.2 L109.7 687.4" stroke="#fff" stroke-width=".7" fill="none"/>
<path d="M110.4 679.3 L108.0 686.0" stroke="#fff" stroke-width=".7" fill="none"/>
<path d="M109.6 678.3 L106.5 684.3" stroke="#fff" stroke-width=".7" fill="none"/>
<path d="M108.9 677.3 L105.2 682.5" stroke="#fff" stroke-width=".7" fill="none"/>
<path d="M106.8 671.0 L101.5 671.9" stroke="#fff" stroke-width=".7" fill="none"/>
<path d="M106.7 669.6 L101.4 669.6" stroke="#fff" stroke-width=".7" fill="none"/>
<path d="M106.8 668.2 L101.5 667.3" stroke="#fff" stroke-width=".7" fill="none"/>
<path d="M107.0 666.9 L101.8 665.0" stroke="#fff" stroke-width=".7" fill="none"/>
<path d="M107.3 665.6 L102.4 662.8" stroke="#fff" stroke-width=".7" fill="none"/>
<path d="M111.3 659.0 L109.7 651.8" stroke="#fff" stroke-width=".7" fill="none"/>
<path d="M112.3 658.3 L111.4 650.5" stroke="#fff" stroke-width=".7" fill="none"/>
<path d="M113.3 657.7 L113.3 649.5" stroke="#fff" stroke-width=".7" fill="none"/>
<path d="M114.4 657.2 L115.3 648.7" stroke="#fff" stroke-width=".7" fill="none"/>
<path d="M115.5 656.8 L117.3 648.1" stroke="#fff" stroke-width=".7" fill="none"/>
<path d="M116.7 656.6 L119.4 647.7" stroke="#fff" stroke-width=".7" fill="none"/>
<path d="M122.3 657.7 L129.7 649.5" stroke="#fff" stroke-width=".7" fill="none"/>
<path d="M123.3 658.3 L131.6 650.5" stroke="#fff" stroke-width=".7" fill="none"/>
<path d="M124.3 659.0 L133.3 651.8" stroke="#fff" stroke-width=".7" fill="none"/>
<path d="M125.2 659.9 L135.0 653.2" stroke="#fff" stroke-width=".7" fill="none"/>
<path d="M126.0 660.9 L136.5 654.9" stroke="#fff" stroke-width=".7" fill="none"/>
<path d="M128.8 668.2 L141.5 667.3" stroke="#fff" stroke-width=".7" fill="none"/>
<path d="M126.1 681.3 L123.5 683.1 L131.4 688.5Z" fill="#fff" opacity=".8"/>
<path d="M111.5 681.9 L109.2 679.6 L108.6 686.3Z" fill="#fff" opacity=".8"/>
<path d="M105.8 668.8 L106.3 665.3 L101.8 665.8Z" fill="#fff" opacity=".8"/>
<path d="M112.7 656.5 L115.6 655.3 L114.6 649.1Z" fill="#fff" opacity=".8"/>
<path d="M125.4 657.3 L127.8 659.6 L134.2 652.9Z" fill="#fff" opacity=".8"/>
<path d="M131.2 669.1 L130.9 672.6 L141.3 671.5Z" fill="#fff" opacity=".8"/>
<ellipse cx="122.0" cy="669.6" rx="21.4" ry="23.2" fill="none" stroke="#1c1c1c" stroke-width="1.4"/>
<ellipse cx="116.8" cy="669.6" rx="8.6" ry="10.6" fill="#fff" stroke="#1c1c1c" stroke-width="1"/>
</g>

<!-- 42_airfilter.svg -->
<g id="airf" transform="translate(40,575) scale(0.16667)">
<!-- side face -->
<path class="k" d="M262 292 L300 282 L322 682 L276 694Z"/>
<path d="M276 306 L284 304 L300 676 L290 680Z" fill="#fff"/>
<path d="M290 470 l14 -4 M291 500 l14 -4 M292 530 l14 -4 M293 560 l14 -4 M294 590 l14 -4 M295 620 l14 -4 M296 650 l14 -4" stroke="#fff" stroke-width="1" fill="none"/>
<!-- front -->
<path class="w" style="stroke-width:2.2" d="M28 232 Q30 214 50 216 L248 276 Q262 282 263 298 L277 682 Q276 700 256 696 L56 640 Q44 634 43 618Z"/>
<path class="l" d="M42 246 L236 304 Q244 308 245 318 L256 676 L62 622 Q56 618 55 610Z"/>
<!-- ribs as outlined bars -->
<g fill="#fff" stroke="#1c1c1c" stroke-width="1.7" stroke-linejoin="round">
<path d="M46 284 L216 334 L217 350 L47 302Z"/>
<path d="M49 316 L218 364 L219 380 L50 334Z"/>
<path d="M51 348 L219 394 L220 410 L52 366Z"/>
<path d="M53 380 L220 424 L221 436 L54 396Z"/>
</g>
<path class="h" d="M46 270 L220 322 M240 300 L240 440"/>
<path class="w" style="stroke-width:2" d="M66 420 Q66 412 74 414 L206 452 Q214 456 214 464 L216 522 Q216 530 208 528 L78 492 Q70 488 69 480Z"/>
<path class="t" d="M72 424 L210 462"/>
<!-- top of air filter: choke/carb knobs -->
<path class="k" d="M100 130 L150 108 L200 128 L232 120 L240 200 L262 240 L230 232 L140 236 L100 220Z"/>
<path d="M118 148 L150 132 L190 148 L192 180 L150 196 L122 188Z" fill="#fff"/>
<path d="M200 150 L226 144 L230 190 L206 196Z" fill="#fff"/>
<path class="k" d="M140 164 L168 156 L174 240 L148 248Z"/>
<path class="h" d="M60 160 L76 150 L70 190 M48 196 L80 180 L100 220"/>
<path class="k" d="M130 676 L160 684 L158 698 L128 690Z M176 690 L206 698 L204 708 L174 700Z"/>
</g>

<!-- 45_leftparts.svg -->
<g id="p43" transform="translate(70,650) scale(0.16667)">
<path class="w" d="M840 100 L945 68 L960 76 L968 150 L990 145 L1000 160 L1000 250 L882 300 L842 296 L835 200 L850 170Z"/>
<path class="l" d="M840 100 L872 118 L880 296 M872 118 L950 92 M850 170 L876 184 M968 150 L940 160 M876 236 L1000 190 M878 252 L1000 206 M878 244 L1000 198"/>
<path class="l" d="M858 108 L866 200 L860 290"/>
<path class="k" d="M905 262 L925 252 L935 268 L915 280Z"/>
<!-- 15 heat shield -->
<path class="w" d="M635 745 L705 715 L846 774 L822 806 L790 800Z"/>
<path class="w" d="M845 565 L945 540 Q965 600 960 690 Q940 770 822 806 Q870 720 860 650 Q858 600 845 565Z"/>
<circle class="l" cx="905" cy="576" r="6"/>
<path class="k" d="M940 536 l8 -2 l2 8 l-8 2Z M842 562 l6 -2 l2 8 l-6 2Z"/>
<!-- 44 screw -->
<path class="w" d="M1066 260 L1096 260 L1096 270 L1066 270Z"/>
<ellipse class="k" cx="1100" cy="268" rx="7" ry="9"/><ellipse cx="1100" cy="268" rx="3" ry="4" fill="#fff"/>
<!-- 35 screw -->
<path class="h" d="M1030 655 L1052 668" style="stroke-width:2"/>
<ellipse class="k" cx="1060" cy="673" rx="10" ry="11"/><ellipse cx="1058" cy="670" rx="3" ry="3" fill="#888"/>
</g>
<g id="p43l">
<path class="l" d="M230.8 697 L230.8 702"/><text x="227.6" y="708.6" textLength="6.0" lengthAdjust="spacingAndGlyphs">43</text>
<path class="l" d="M252.6 697.6 L252.6 702.6"/><text x="249.4" y="710" textLength="6.0" lengthAdjust="spacingAndGlyphs">44</text>
<path class="l" d="M206.8 785 L206.8 790"/><text x="203.8" y="797" textLength="6.0" lengthAdjust="spacingAndGlyphs">15</text>
<path class="l" d="M246.8 765 L246.8 770"/><text x="243.6" y="777.6" textLength="6.0" lengthAdjust="spacingAndGlyphs">35</text>
</g>
<g id="p23" transform="translate(70,727) scale(0.16667)">
<path class="w" d="M130 245 L135 196 L156 188 L202 250 L350 290 L380 320 L362 328 L410 386 L436 380 L466 426 L450 442 L386 442 L332 350 L190 300Z"/>
<path class="l" d="M202 250 L190 300 M210 262 L345 300 L362 328 M345 300 L332 350 M148 198 L196 262 M362 328 L345 300"/>
<path class="k" d="M134 228 L160 252 L158 270 L132 246Z"/>
<path class="h" d="M205 256 L348 296"/>
<ellipse class="l" cx="425" cy="420" rx="18" ry="10"/>
<path class="l" d="M386 442 L396 400 L410 386"/>
<path class="k" d="M206 186 Q206 176 218 176 Q232 178 232 192 Q232 212 218 214 Q206 210 206 198Z"/>
</g>
<g id="p23l">
<path class="l" d="M141.4 802 L141.4 807"/><text x="138.2" y="814.4" textLength="6.0" lengthAdjust="spacingAndGlyphs">23</text>
<path class="l" d="M106.4 755.6 L106.4 757.4"/><text x="103.4" y="754.8" textLength="6.0" lengthAdjust="spacingAndGlyphs">45</text>
</g>

<!-- 46_bar49.svg -->
<g id="bar49" transform="translate(30,500) scale(0.25)">
<!-- tab left -->
<path class="w" d="M478 92 L490 82 L512 86 L518 98 L505 106Z"/>
<circle class="t" cx="500" cy="92" r="4"/>
<!-- bar -->
<path class="w" d="M430 100 L442 92 L872 236 L886 236 L880 256 L862 300 L846 300 L432 142Z"/>
<path class="l" d="M430 100 L850 248 L846 300 M850 248 L872 236 M850 248 L862 300"/>
<circle class="t" cx="445" cy="124" r="4.4"/><circle class="t" cx="832" cy="270" r="4.4"/>
<path class="w" d="M838 230 L850 222 L884 228 L886 238 L872 246Z"/>
<circle class="t" cx="866" cy="234" r="4"/>
<!-- bolts 19 -->
<path class="w" d="M328 232 L356 206 L364 214 L336 240Z"/>
<path class="k" d="M312 236 L322 228 L334 234 L336 246 L324 252 L314 246Z"/>
<path class="w" d="M732 374 L760 348 L768 356 L740 382Z"/>
<path class="k" d="M716 378 L726 370 L738 376 L740 388 L728 394 L718 388Z"/>
<!-- washers 42 -->
<ellipse class="k" cx="385" cy="186" rx="5" ry="8"/><ellipse class="k" cx="800" cy="324" rx="5" ry="8"/>
</g>
<g id="bar49l">
<path class="l" d="M112.4 562.6 L113.6 568.6"/><text x="110.4" y="576.6" textLength="6.0" lengthAdjust="spacingAndGlyphs">19</text>
<path class="l" d="M126.4 548.6 L127 553"/><text x="124.6" y="560.6" textLength="6.0" lengthAdjust="spacingAndGlyphs">42</text>
<path class="l" d="M212.6 598.4 L213.6 603.6"/><text x="210.2" y="611.6" textLength="6.0" lengthAdjust="spacingAndGlyphs">19</text>
<path class="l" d="M230.2 583 L231 588"/><text x="228.4" y="595.4" textLength="6.0" lengthAdjust="spacingAndGlyphs">42</text>
<path class="l" d="M242.6 575.4 L242.6 581.4"/><text x="240.4" y="589.4" textLength="6.0" lengthAdjust="spacingAndGlyphs">49</text>
<path class="l" d="M285.4 623.6 L285.4 628.6"/><text x="283.8" y="636" textLength="3.0" lengthAdjust="spacingAndGlyphs">8</text>
<path class="l" d="M218.8 611.2 L230 605"/>
</g>
<g id="part8" transform="translate(255,590) scale(0.0644)">
<path class="w" d="M400 302 Q480 250 590 312 Q670 380 696 450 L692 492 L640 504 L560 470 Q520 380 420 340Z"/>
<path d="M306 378 Q360 320 420 320 Q520 350 584 466" fill="none" stroke="#1c1c1c" stroke-width="2.4" stroke-linecap="round"/>
<path d="M336 446 Q380 392 430 392 Q500 420 536 510" fill="none" stroke="#1c1c1c" stroke-width="2.4" stroke-linecap="round"/>
<path d="M336 446 Q400 500 520 530 L584 466" fill="none" stroke="#1c1c1c" stroke-width="2" stroke-linecap="round"/>
<path class="k" d="M340 440 L400 420 L430 470 L380 480Z"/>
<path class="k" d="M640 470 Q660 450 690 460 L690 492 L644 502Z"/>
</g>

<!-- 50_alt.svg -->
<g id="altbox">
<path class="l dl" d="M558.8 328.8 L766.2 211.2" stroke-dasharray="28.5 13.5"/>
<path class="l dl" d="M766.2 211.2 L810 321.2" stroke-dasharray="30.8 13"/>
<path class="l dl" d="M810 321.2 L601 438.9" stroke-dasharray="29 14.5"/>
<path class="l dl" d="M558.8 328.8 L601 438.9" stroke-dasharray="30.8 13"/>
</g>
<g id="stator" transform="translate(540,200) scale(0.25)">
<!-- body -->
<path class="w" d="M660 290 L800 207 Q870 212 920 270 Q960 340 970 410 L960 446 L780 560Z"/>
<path class="l" d="M868 224 Q910 250 940 320 Q958 380 958 440"/>
<!-- wire -->
<path class="l" d="M872 226 Q890 212 936 210 L944 232"/>
<path class="w" d="M932 206 L950 212 L954 232 L940 236Z"/>
<!-- front ellipses -->
<g transform="rotate(59.2 717 424)">
<ellipse class="w" cx="717" cy="424" rx="146" ry="100"/>
<ellipse class="l" cx="717" cy="432" rx="138" ry="92"/>
<ellipse class="l" cx="717" cy="440" rx="110" ry="72"/>
<ellipse class="l" cx="717" cy="446" rx="102" ry="64"/>
</g>
<!-- bracket near 34 -->
<path class="w" d="M390 380 L418 350 L432 352 L436 368 L462 378 L464 392 L440 390 L410 404 L392 404Z"/>
<path class="l" d="M418 350 L420 374 L392 404 M420 374 L440 390 M436 368 L440 390"/>
<!-- screws -->
<path class="h" d="M490 330 L508 326" style="stroke-width:2"/><ellipse class="k" cx="514" cy="324" rx="8" ry="9"/>
<path class="h" d="M668 568 L686 564" style="stroke-width:2"/><ellipse class="k" cx="692" cy="561" rx="8" ry="9"/>
<path class="h" d="M686 648 L702 642" style="stroke-width:2"/><ellipse class="k" cx="708" cy="638" rx="8" ry="9"/>
</g>
<g id="rotor" transform="translate(560,300) scale(0.125)">
<!-- body -->
<path class="w" d="M370 356 L740 150 Q800 160 850 195 L890 236 L900 262 L950 440 L545 682 L480 560Z"/>
<!-- back-end teeth -->
<path class="h" d="M772 162 l14 -6 l10 12 l14 -6 l10 12 l14 -4 l10 12 l14 -4 l8 12 l12 -2 l8 14"/>
<path class="l" d="M760 176 L870 246 L900 262"/>
<!-- pole face -->
<path class="w" d="M500 490 L870 276 L950 440 L545 682Z"/>
<path class="h" d="M545 640 L940 414"/>
<path class="l" d="M520 540 L545 640"/>
<path class="k" d="M540 482 L556 474 L596 628 L580 636Z"/>
<path class="w" d="M558 474 L640 426 L680 580 L596 626Z M656 416 L740 366 L776 516 L692 566Z M756 356 L836 310 L870 456 L790 504Z"/>
<path class="h" d="M640 426 L656 416 M740 366 L756 356 M836 310 L870 290"/>
<circle class="k" cx="616" cy="520" r="20"/><circle cx="616" cy="520" r="8" fill="#777"/>
<circle class="k" cx="712" cy="466" r="20"/><circle cx="712" cy="466" r="8" fill="#777"/>
<circle class="k" cx="808" cy="410" r="20"/><circle cx="808" cy="410" r="8" fill="#777"/>
<!-- bearing -->
<path class="k" d="M892 236 L930 196 L990 290 L945 312Z"/>
<path d="M905 240 l10 -8 l40 66 l-10 6Z M925 222 l8 -8 l40 66 l-8 6Z" fill="#fff"/>
<g transform="rotate(59.2 985 238)"><ellipse class="w" cx="985" cy="238" rx="62" ry="38"/></g>
<path class="l" d="M930 196 Q950 160 990 176"/>
<!-- fan back rim + teeth -->
<g transform="rotate(59.2 368 580)"><ellipse class="w" cx="368" cy="580" rx="262" ry="165"/></g>
<path class="w" style="stroke:none" d="M456 831 L502 805 L234 355 L188 381Z"/>
<path class="l" d="M456 831 L502 805 M188 381 L234 355"/>
<path class="k" d="M204 386 L222 380 L263 343 L244 350Z M239 377 L259 378 L303 340 L281 340Z M278 380 L300 387 L346 349 L323 343Z M319 395 L342 407 L390 371 L367 358Z M361 420 L383 438 L433 403 L410 384Z M400 455 L420 477 L473 444 L452 420Z M436 498 L453 523 L507 492 L490 465Z M466 546 L479 573 L535 544 L521 515Z M488 597 L497 625 L553 599 L544 569Z M502 649 L506 676 L562 652 L559 623Z M507 698 L505 723 L561 702 L563 676Z M502 743 L495 764 L551 745 L558 723Z M488 781 L477 797 L531 780 L543 763Z M465 809 L450 821 L502 805 L518 793Z "/>
<!-- front disc -->
<g transform="rotate(59.2 322 606)">
<ellipse class="w" cx="322" cy="606" rx="262" ry="165"/>
<ellipse class="l" cx="322" cy="612" rx="215" ry="130"/>
<ellipse class="l" cx="322" cy="618" rx="165" ry="98"/>
<ellipse class="l" cx="322" cy="620" rx="150" ry="88"/>
<ellipse cx="322" cy="616" rx="78" ry="46" fill="#888" stroke="#1c1c1c" stroke-width="1.2"/>
<ellipse cx="322" cy="616" rx="52" ry="30" fill="#ddd" stroke="#1c1c1c" stroke-width="1"/>
<ellipse cx="322" cy="618" rx="30" ry="17" fill="#666" stroke="#1c1c1c" stroke-width=".8"/>
</g>
<!-- brush holder -->
<path class="w" d="M994 330 L1012 322 L1150 592 L1134 604Z"/>
<path class="k" d="M1036 352 L1076 342 L1110 360 L1180 520 L1170 556 L1130 566 L1090 520Z"/>
<path d="M1060 372 l12 -4 M1074 400 l12 -4 M1088 428 l12 -4 M1102 456 l12 -4 M1116 484 l12 -4 M1130 512 l12 -4" stroke="#fff" stroke-width="1" fill="none"/>
<path class="h" d="M986 380 L1004 372 M1000 410 L1018 402 M1014 440 L1032 432 M1028 470 L1046 462 M1042 500 L1060 492 M1056 530 L1074 522 M1070 560 L1088 552 M1084 586 L1100 580"/>
</g>
<g id="altl">
<text x="667.4" y="295.6" textLength="6.0" lengthAdjust="spacingAndGlyphs">34</text><path class="l" d="M669.4 283 L670 287"/>
<text x="712" y="353.4" textLength="6.0" lengthAdjust="spacingAndGlyphs">35</text><path class="l" d="M714 343 L714.6 346"/>
<text x="715.4" y="373" textLength="6.0" lengthAdjust="spacingAndGlyphs">35</text><path class="l" d="M717.6 362 L718 365"/>
<path class="l" d="M732.6 364 L732.6 375"/><text x="731.4" y="376" textLength="3.0" lengthAdjust="spacingAndGlyphs">1</text>
</g>
<g id="altaxis">
<path class="l" d="M540 417.4 L566.2 401.2 M591.2 386.2 L607.5 376.2 M687.5 326.2 L752.5 288.8 M776.2 273.8 L800 260"/>
</g>

<!-- 55_muffler.svg -->
<g id="muffler" transform="translate(590,50) scale(0.25)">
<!-- top face -->
<path class="w" d="M388 88 L612 36 L706 72 L486 130Z"/>
<path class="l" d="M400 92 L612 44 L694 74 M430 100 L660 52 M520 56 L600 96"/>
<ellipse class="l" cx="470" cy="90" rx="12" ry="5"/><ellipse class="l" cx="622" cy="60" rx="12" ry="5"/>
<!-- left face -->
<path class="w" style="stroke-width:2.8" d="M386 90 L486 130 L492 330 L402 306Z"/>
<path class="l" d="M396 100 L478 134 L484 318 L408 298Z"/>
<ellipse class="h" cx="441" cy="214" rx="29" ry="88" transform="rotate(-3 441 214)"/>
<ellipse class="l" cx="441" cy="214" rx="22" ry="78" transform="rotate(-3 441 214)"/>
<ellipse class="l" cx="444" cy="228" rx="12" ry="56" transform="rotate(-3 441 214)"/>
<circle class="l" cx="440" cy="148" r="8"/>
<path class="l" d="M404 300 L410 310 L470 326"/>
<!-- big face -->
<path class="w" style="stroke-width:2" d="M486 130 L702 74 L716 280 L492 330Z"/>
<g fill="none" stroke="#1c1c1c" stroke-width="2.3" stroke-linecap="round"><path d="M496 138 L666 252 M692 84 L500 320 M496 226 L662 190"/></g>

<path class="w" d="M676 136 L700 128 L708 274 L682 284Z"/>
<path class="k" d="M684 146 L690 144 L696 262 L690 264Z"/>
<path class="l" d="M700 140 L712 150 L712 160 L702 158"/>
<!-- 24 gasket -->
<path class="w" style="stroke-width:1.5" d="M232 200 Q236 184 256 182 Q284 190 298 222 Q300 246 280 254 Q252 250 236 226Z"/>
<path class="l" d="M240 204 Q244 192 258 190 Q280 198 290 224 Q292 240 278 246 Q256 242 244 224Z"/>
<ellipse class="h" cx="266" cy="218" rx="10" ry="18" transform="rotate(-40 266 218)"/>
<!-- 27 nuts -->
<ellipse class="k" cx="165" cy="244" rx="14" ry="15"/><ellipse cx="166" cy="244" rx="6" ry="7" fill="#aaa"/>
<ellipse class="k" cx="205" cy="270" rx="14" ry="15"/><ellipse cx="206" cy="270" rx="6" ry="7" fill="#aaa"/>
<path class="l" d="M158 258 L180 286 L206 286"/>
<!-- 28 bolts -->
<path class="w" d="M70 286 L114 264 L120 276 L76 298Z"/><path class="k" d="M50 294 L62 284 L74 290 L76 304 L64 310 L52 304Z"/>
<path class="w" d="M116 306 L160 284 L166 296 L122 318Z"/><path class="k" d="M96 314 L108 304 L120 310 L122 324 L110 330 L98 324Z"/>
<path class="l" d="M64 310 L110 330"/>
<!-- 50 bracket -->
<path class="w" d="M780 128 L806 118 L862 134 L838 142Z"/>
<path class="w" d="M826 138 L848 136 Q866 220 862 296 L870 306 L850 312 L836 306 L836 290 Q850 220 826 138Z"/>
<path class="l" d="M838 140 Q858 220 852 292"/>
<path class="k" d="M836 290 L850 286 L852 306 L838 306Z"/>
<!-- 46 top vertical -->
<path class="k" d="M796 76 L816 76 L818 90 L794 90Z M800 92 L812 92 L812 104 L800 104Z"/>
<path class="l" d="M806 106 L806 118"/>
<!-- 46 right bolts -->
<path class="w" d="M910 122 L944 116 L946 128 L912 134Z"/><path class="k" d="M942 110 L956 108 L964 120 L958 132 L946 132Z"/>
<path class="w" d="M955 260 L990 254 L992 266 L957 272Z"/><path class="k" d="M988 248 L1002 246 L1010 258 L1004 270 L992 270Z"/>
<!-- 46 bottom nut -->
<path class="k" d="M900 296 L912 292 L922 298 L920 310 L908 314 L900 308Z"/>
<path class="l" d="M872 300 L896 302"/>
</g>
<g id="mufl">
<path class="l" d="M742.6 127 L742.6 130.6"/><text x="739.4" y="138.6" textLength="6.0" lengthAdjust="spacingAndGlyphs">26</text>
<path class="l" d="M658.6 113.6 L659.4 116"/><text x="657.6" y="124" textLength="6.0" lengthAdjust="spacingAndGlyphs">24</text>
<text x="639.4" y="131.4" textLength="6.0" lengthAdjust="spacingAndGlyphs">27</text>
<path class="l" d="M616.6 132.6 L618.6 134"/><text x="617" y="141.6" textLength="6.0" lengthAdjust="spacingAndGlyphs">28</text>
<path class="l" d="M795.4 73.6 L800 73.6"/><text x="799.4" y="77.4" textLength="6.0" lengthAdjust="spacingAndGlyphs">46</text>
<path class="l" d="M826.4 83.6 L827.4 86"/><text x="825.6" y="94" textLength="6.0" lengthAdjust="spacingAndGlyphs">46</text>
<path class="l" d="M838.4 118 L839.4 120.4"/><text x="837" y="128.4" textLength="6.0" lengthAdjust="spacingAndGlyphs">46</text>
<path class="l" d="M818 128.6 L818.4 131"/><text x="815.4" y="139.6" textLength="6.0" lengthAdjust="spacingAndGlyphs">46</text>
<path class="l" d="M802 128.6 L802.6 131"/><text x="800" y="138.6" textLength="6.0" lengthAdjust="spacingAndGlyphs">50</text>
</g>

<!-- 60_part2.svg -->
<g id="part2" transform="translate(795,180) scale(0.125)">
<!-- bottom-right foot (behind) -->
<path class="w" d="M400 700 L470 690 L560 648 L640 790 L662 828 L600 862 L560 850 L430 740Z"/>
<path class="l" d="M470 700 L590 846 M500 690 L620 800 L640 790 M540 680 L600 760 M600 862 L590 830 L620 800 M590 830 L560 850"/>
<path class="k" d="M430 740 L470 730 L560 850 L540 846Z"/>
<!-- bottom-left lug -->
<path class="w" d="M200 640 L236 626 L300 660 L340 700 L330 720 L260 726 L210 700Z"/>
<ellipse class="h" cx="240" cy="660" rx="22" ry="14"/>
<path class="l" d="M210 700 L250 690 L330 720 M250 690 L236 676"/>
<path class="k" d="M260 700 L330 690 L340 704 L330 720 L262 726Z"/>
<!-- top lug -->
<path class="w" d="M108 160 L150 140 L240 120 L270 150 L230 180 L140 200 L112 190Z"/>
<path class="k" d="M160 110 Q170 92 196 94 Q216 100 214 120 L208 140 L172 148Z"/>
<ellipse cx="188" cy="106" rx="14" ry="8" fill="#fff"/>
<path class="l" d="M150 140 L168 170 L140 200 M168 170 L250 150"/>
<!-- body -->
<path class="w" style="stroke-width:1.5" d="M265 130 L340 98 L400 108 L480 165 L550 240 L600 320 L640 420 L655 520 L640 590 L560 642 L470 690 L400 700 L200 400Z"/>
<path class="w" d="M560 250 L584 246 L592 280 L572 290Z"/>
<!-- ribs -->
<path class="k" d="M546 500 L648 450 L660 540 L640 596 L556 640Z"/>
<path d="M548 514 L652 466 M548 530 L654 482 M550 546 L656 498 M550 562 L657 514 M552 578 L657 530 M552 594 L654 548 M554 610 L650 566 M555 626 L644 584" stroke="#fff" stroke-width=".7" fill="none"/>
<!-- front ellipse -->
<g transform="rotate(54.7 308 445)">
<ellipse class="w" style="stroke-width:2" cx="308" cy="445" rx="296" ry="150"/>
<ellipse class="l" cx="308" cy="452" rx="282" ry="136"/>
</g>
<!-- inner back wall arc -->
<path class="l" d="M280 250 Q400 330 470 480 Q500 560 490 620"/>
<!-- stepped windows top -->
<path class="w" d="M262 196 L330 176 L350 200 L372 196 L390 226 L410 224 L420 270 L400 300 L372 296 L350 260 L320 250 L290 224Z"/>
<path class="l" d="M330 176 L340 216 L290 224 M340 216 L362 240 L350 260 M372 196 L380 238 L362 240 M380 238 L400 262 L400 300 M410 224 L400 262"/>
<path class="k" d="M300 210 L332 204 L338 218 L306 224Z M366 250 L392 246 L396 262 L372 268Z"/>
<!-- inner bearing support -->
<path class="k" d="M270 260 L290 256 L320 330 L420 330 L440 400 L420 450 L350 460 L320 420 L296 340Z"/>
<path d="M330 348 L400 346 L410 380 L350 392Z M352 410 L410 400 L412 430 L364 440Z" fill="#fff"/>
<path class="l" d="M350 460 Q420 520 480 580 M280 280 Q300 420 350 460"/>
<!-- boss -->
<path class="w" d="M450 400 L510 372 Q540 380 546 410 L548 460 L490 492 L470 470Z"/>
<path class="l" d="M510 372 Q500 400 470 420 L450 400 M470 420 L470 470 M474 436 L546 424 M474 452 L548 442"/>
<!-- left small lug -->
<path class="w" d="M112 420 L128 414 L140 450 L124 458Z"/>
<!-- axis lines -->
<path class="l" d="M235 515 L340 460"/>
</g>
<g id="p2l">
<path class="l" d="M843.4 267.6 L844 275.6"/><text x="842.4" y="282.4" textLength="3.0" lengthAdjust="spacingAndGlyphs">2</text>

</g>

<!-- 65_rods.svg -->
<g id="rods" transform="translate(860,90) scale(0.25)">
<!-- rods 3 (dark) -->
<path d="M95 240 L320 110" stroke="#1c1c1c" stroke-width="2.5" fill="none" stroke-linecap="round"/>
<path d="M95 240 L316 112" stroke="#999" stroke-width=".5" fill="none"/>
<circle class="k" cx="321" cy="108" r="5"/>
<path d="M312 625 L540 495" stroke="#1c1c1c" stroke-width="2.5" fill="none" stroke-linecap="round"/>
<path d="M312 625 L536 497" stroke="#999" stroke-width=".5" fill="none"/>
<circle class="k" cx="541" cy="494" r="5"/>
<!-- rods 20 (tubes) -->
<g stroke="#1c1c1c" stroke-width="3.5" fill="none" stroke-linecap="round"><path d="M152 310 L348 202 M80 400 L273 293 M275 457 L470 347 M243 540 L438 429"/></g>
<g stroke="#fff" stroke-width="1.1" fill="none" stroke-linecap="round"><path d="M152 310 L344 204 M80 400 L269 295 M275 457 L466 349 M243 540 L434 431"/></g>
<circle class="k" cx="351" cy="199" r="7"/><circle class="k" cx="276" cy="290" r="7"/><circle class="k" cx="473" cy="345" r="7"/><circle class="k" cx="441" cy="427" r="7"/>
<path class="l" d="M152 310 L136 330 L150 352 M468 356 L460 388 L446 418"/>
<!-- rod 17 -->
<path d="M218 385 L570 182" stroke="#1c1c1c" stroke-width="4.8" fill="none" stroke-linecap="round"/>
<path d="M220 384 L566 184" stroke="#fff" stroke-width="2.4" fill="none" stroke-linecap="round"/>
<path class="l" d="M236 380 L556 194"/>
<path class="w" d="M556 176 L572 162 L588 168 L590 186 L576 200 L560 194Z"/>
<path class="l" d="M572 162 L574 182 L590 186 M574 182 L560 194"/>
<!-- axis -->
<path class="l" d="M50 500 L120 462 M150 440 L215 400 M600 165 L695 110"/>
<!-- washer 18 -->
<ellipse class="k" cx="134" cy="450" rx="13" ry="19" transform="rotate(-25 134 450)"/>
<ellipse cx="136" cy="450" rx="8" ry="13" fill="#fff" transform="rotate(-25 134 450)"/>
<ellipse class="t" cx="137" cy="451" rx="4" ry="7" transform="rotate(-25 134 450)"/>
<!-- 4 and 47 -->
<ellipse class="k" cx="27" cy="282" rx="5" ry="7"/><path class="l" d="M28 288 L30 302"/>
<path class="l" d="M66 264 L70 292"/><circle class="k" cx="66" cy="264" r="3"/>
<ellipse class="k" cx="243" cy="665" rx="6" ry="8"/><path class="l" d="M244 672 L246 688"/>
<path class="l" d="M279 640 L285 668"/><circle class="k" cx="279" cy="640" r="3"/>
<!-- screws 35 / 34 -->
<path class="h" d="M548 50 L562 46" style="stroke-width:2"/><ellipse class="k" cx="568" cy="43" rx="8" ry="8"/>
<path class="h" d="M880 48 L894 43" style="stroke-width:2"/><ellipse class="k" cx="900" cy="40" rx="8" ry="8"/>
<path class="h" d="M692 382 L706 377" style="stroke-width:2"/><ellipse class="k" cx="712" cy="374" rx="8" ry="8"/>
<path class="h" d="M932 168 L946 162" style="stroke-width:2"/><ellipse class="k" cx="952" cy="159" rx="8" ry="8"/>
<!-- part 33 -->
<path class="w" d="M790 36 L816 40 Q848 66 860 120 Q858 170 830 196 L796 206 Q770 196 764 172 L770 136 L790 112 L780 90Z"/>
<path class="l" d="M806 54 Q834 84 838 130 Q832 172 800 192"/>
<path class="l" d="M820 44 Q852 80 850 130 Q846 172 820 198"/>
<path class="w" d="M768 166 L812 140 Q834 146 836 164 L802 196 Q774 200 768 166Z"/>
<ellipse class="l" cx="784" cy="180" rx="17" ry="14"/>
<path class="h" d="M730 46 L776 52 M736 30 L790 44 M740 10 L770 40"/>
<path class="k" d="M734 4 L748 0 L760 22 L748 28Z"/>
<path class="k" d="M780 36 L800 30 L812 44 L792 52Z"/>
</g>
<g id="rodl">
<path class="l" d="M912 134 L912 138.6"/><text x="910.6" y="146.4" textLength="3.0" lengthAdjust="spacingAndGlyphs">3</text>
<path class="l" d="M938.2 145.6 L938.2 151"/><text x="935" y="159.6" textLength="6.0" lengthAdjust="spacingAndGlyphs">20</text>
<path class="l" d="M953 165 L953 170"/><text x="950" y="178.6" textLength="6.0" lengthAdjust="spacingAndGlyphs">17</text>
<path class="l" d="M942.6 213.6 L942.6 217.6"/><text x="939.2" y="226.4" textLength="6.0" lengthAdjust="spacingAndGlyphs">20</text>
<path class="l" d="M957.6 236.4 L957.6 239.6"/><text x="956" y="248.4" textLength="3.0" lengthAdjust="spacingAndGlyphs">3</text>
<text x="866" y="172" textLength="3.0" lengthAdjust="spacingAndGlyphs">4</text><text x="875.4" y="167.4" textLength="6.0" lengthAdjust="spacingAndGlyphs">47</text>
<text x="920" y="268.6" textLength="3.0" lengthAdjust="spacingAndGlyphs">4</text><text x="929.4" y="263" textLength="6.0" lengthAdjust="spacingAndGlyphs">47</text>
<path class="l" d="M895 206 L896 209"/><text x="894" y="217.6" textLength="6.0" lengthAdjust="spacingAndGlyphs">18</text>
<text x="1000.4" y="113.4" textLength="6.0" lengthAdjust="spacingAndGlyphs">35</text><text x="1083" y="111.4" textLength="6.0" lengthAdjust="spacingAndGlyphs">35</text><text x="1036.4" y="196" textLength="6.0" lengthAdjust="spacingAndGlyphs">35</text><text x="1096.6" y="143" textLength="6.0" lengthAdjust="spacingAndGlyphs">34</text>
<path class="l" d="M1069.6 139 L1069.6 147.6"/><text x="1065.6" y="156" textLength="6.0" lengthAdjust="spacingAndGlyphs">33</text>
</g>

<!-- 66_cover38.svg -->
<g id="cover38" transform="translate(1020,30) scale(0.125)">
<defs><clipPath id="cpE1"><ellipse cx="630" cy="385" rx="292" ry="166" transform="rotate(70 630 385)"/></clipPath></defs>
<ellipse class="w" cx="742" cy="344" rx="270" ry="160" transform="rotate(70 742 344)"/>
<ellipse class="l" cx="730" cy="348" rx="262" ry="152" transform="rotate(70 730 348)"/>
<path class="w" d="M530 111 L650 90 L834 598 L730 659Z" style="stroke:none"/>
<ellipse class="w" cx="630" cy="385" rx="292" ry="166" transform="rotate(70 630 385)"/>
<g clip-path="url(#cpE1)">
<ellipse class="l" cx="742" cy="344" rx="270" ry="160" transform="rotate(70 742 344)"/>
<ellipse class="l" cx="752" cy="340" rx="250" ry="144" transform="rotate(70 752 340)"/>
</g>
<path class="w" d="M566 132 L606 122 L640 150 L600 160Z"/>
<path class="l" d="M536 106 L652 88 M732 660 L838 598"/>
<!-- vents -->
<g stroke="#1c1c1c" stroke-width="2.3" stroke-linecap="round" fill="none">
<path d="M606 196 L640 222 M610 222 L660 258 M616 250 L676 292 M624 280 L690 324 M634 310 L700 350 M646 340 L706 376 M660 370 L700 392 M676 398 L720 424 M690 428 L740 456 M706 456 L752 476"/>
<path d="M716 372 L760 400 M728 396 L776 426 M740 422 L786 450 M752 448 L790 468"/>
</g>
<path class="l" d="M340 560 L800 290"/>
<!-- screws 35 right top -->
<path class="h" d="M916 186 L944 172" style="stroke-width:2"/><ellipse class="k" cx="954" cy="164" rx="14" ry="14"/>
<path class="h" d="M1006 222 L1034 208" style="stroke-width:2"/><ellipse class="k" cx="1044" cy="200" rx="14" ry="14"/>
<path class="l" d="M966 160 L1010 162 L1040 190"/>
<!-- screw 34 near 33 and 35 -->
<path class="h" d="M318 408 L350 394" style="stroke-width:2"/><ellipse class="k" cx="362" cy="386" rx="14" ry="14"/>
<path class="h" d="M482 582 L514 566" style="stroke-width:2"/><ellipse class="k" cx="524" cy="558" rx="14" ry="14"/>

</g>
<g id="c38l">
<text x="1111.6" y="122.4" textLength="6.0" lengthAdjust="spacingAndGlyphs">38</text>
<text x="1149.4" y="67.6" textLength="6.0" lengthAdjust="spacingAndGlyphs">35</text>
<text x="1063.6" y="90.6" textLength="6.0" lengthAdjust="spacingAndGlyphs">34</text>
</g>

<!-- 70_right.svg -->
<g id="rightA" transform="translate(830,270) scale(0.25)">
<!-- dashed from foot -->
<path class="l" d="M196 46 L240 66 M240 72 L240 110 M240 126 L240 160"/>
<!-- bolt 19 -->
<path class="k" d="M224 172 L232 166 L250 166 L258 172 L258 186 L250 192 L232 192 L224 186Z"/>
<path class="w" d="M234 192 L248 192 L248 208 Q241 214 234 208Z"/>
<path class="l" d="M206 178 L224 178 M240 216 L240 244"/>
<!-- ring terminal 5 + wire -->
<ellipse class="w" style="stroke-width:1.5" cx="240" cy="256" rx="20" ry="10"/><ellipse class="l" cx="240" cy="256" rx="9" ry="4.4"/>
<path class="l" d="M202 256 L220 256"/>
<path d="M260 252 Q316 246 334 200 Q340 130 380 106 L410 96" fill="none" stroke="#1c1c1c" stroke-width="2"/>
<ellipse class="w" style="stroke-width:1.5" cx="428" cy="95" rx="19" ry="10.5"/><ellipse class="l" cx="428" cy="95" rx="9" ry="4.6"/>
<!-- 6 -->
<ellipse class="k" cx="240" cy="302" rx="19" ry="7"/><ellipse cx="240" cy="300" rx="6" ry="2.4" fill="#fff"/>
<path class="h" d="M240 268 L240 294 M240 310 L240 330"/>
<path class="l" d="M204 303 L222 303"/>
<!-- 45 nut -->
<path class="k" d="M226 342 Q240 334 254 342 L254 354 Q240 362 226 354Z"/>
<path class="l" d="M210 346 L226 346"/>
<!-- bolt 19 right -->
<path class="k" d="M712 180 L720 174 L736 174 L744 180 L744 194 L712 194Z"/>
<path class="w" d="M720 194 L734 194 L734 214 Q727 220 720 214Z"/>
<path class="l" d="M746 190 L770 190"/>
<!-- wire 31 -->
<path d="M520 400 Q556 386 596 352 Q630 334 716 320" fill="none" stroke="#1c1c1c" stroke-width="2.6"/>
<path d="M520 400 Q556 386 596 352 Q630 334 716 320" fill="none" stroke="#fff" stroke-width=".9"/>
<path class="w" style="stroke-width:1.5" d="M474 402 L512 392 L522 412 L484 426Z"/><path class="k" d="M478 406 L492 402 L498 416 L484 420Z"/>
<path class="w" style="stroke-width:1.5" d="M714 312 L730 296 L758 298 L768 316 L732 330Z"/><path class="l" d="M728 306 L752 304 L756 316"/>
<!-- wire 14 -->
<path d="M100 566 Q150 550 186 518 Q220 500 296 488" fill="none" stroke="#1c1c1c" stroke-width="2.6"/>
<path d="M100 566 Q150 550 186 518 Q220 500 296 488" fill="none" stroke="#fff" stroke-width=".9"/>
<path class="w" style="stroke-width:1.5" d="M54 570 L92 558 L102 580 L64 594Z"/><path class="k" d="M58 574 L72 570 L78 584 L64 588Z"/>
<path class="w" style="stroke-width:1.5" d="M292 480 L308 464 L336 466 L346 484 L310 498Z"/><path class="l" d="M306 474 L330 472 L334 484"/>
</g>
<g id="rightB" transform="translate(830,400) scale(0.25)">
<!-- battery -->
<path class="w" d="M172 148 L325 98 L402 138 L404 292 L250 342 L176 312Z"/>
<path class="l" d="M172 148 L246 190 L402 138 M246 190 L250 342"/>
<path class="l" d="M172 162 L246 204 L402 152 M240 200 L244 340"/>
<path class="l" d="M250 164 L340 134 L384 152 L290 184Z M262 168 L338 144 L366 156 L292 180Z"/>
<path class="h" d="M270 176 L360 148"/>
<path class="l" d="M228 178 L250 164 M340 134 L340 120 M222 176 L222 190"/>
<!-- bracket 41 -->
<path class="w" d="M388 428 L636 306 L646 336 L400 462Z"/>
<ellipse class="l" cx="406" cy="441" rx="5" ry="6"/><ellipse class="l" cx="630" cy="326" rx="7" ry="5" transform="rotate(-26 630 326)"/>
<path class="w" d="M462 264 L490 252 L512 276 L540 396 L516 406 L486 290 L464 272Z"/>
<path class="l" d="M490 252 L492 262 L486 290 M492 262 L512 276"/>
<!-- screws 21 -->
<path class="h" d="M702 444 L712 452" style="stroke-width:2"/><ellipse class="k" cx="718" cy="458" rx="9" ry="10"/><ellipse cx="716" cy="456" rx="3" ry="3" fill="#888"/>
<path class="h" d="M482 530 L492 538" style="stroke-width:2"/><ellipse class="k" cx="498" cy="543" rx="9" ry="10"/><ellipse cx="496" cy="541" rx="3" ry="3" fill="#888"/>
</g>
<g id="rightl">
<text x="876" y="318.4" textLength="6.0" lengthAdjust="spacingAndGlyphs">19</text><text x="877" y="338.4" textLength="3.0" lengthAdjust="spacingAndGlyphs">5</text><text x="877.6" y="349.6" textLength="3.0" lengthAdjust="spacingAndGlyphs">6</text><text x="876" y="360" textLength="6.0" lengthAdjust="spacingAndGlyphs">45</text>
<text x="1023.4" y="322.6" textLength="6.0" lengthAdjust="spacingAndGlyphs">19</text>
<path class="l" d="M974.4 365 L974.4 369"/><text x="971.4" y="376" textLength="6.0" lengthAdjust="spacingAndGlyphs">31</text>
<path class="l" d="M879.4 400 L879.4 404"/><text x="876.4" y="412" textLength="6.0" lengthAdjust="spacingAndGlyphs">14</text>
<path class="l" d="M915.8 480 L915.8 483"/><text x="912.6" y="491" textLength="6.0" lengthAdjust="spacingAndGlyphs">39</text>
<path class="l" d="M964 497.6 L964 501"/><text x="961" y="510.4" textLength="6.0" lengthAdjust="spacingAndGlyphs">41</text>
<text x="1009" y="527.6" textLength="6.0" lengthAdjust="spacingAndGlyphs">21</text><text x="954" y="548.4" textLength="6.0" lengthAdjust="spacingAndGlyphs">21</text>
</g>

<!-- 75_panel.svg -->
<g id="panelbox">
<path class="l dl" d="M528 632 L781.5 526.5" stroke-dasharray="27 14.3"/>
<path class="l dl" d="M781.5 526.5 L999 717" stroke-dasharray="27.5 14.5" stroke-dashoffset="12.5"/>
<path class="l dl" d="M528 632 L753.5 840.5" stroke-dasharray="29 13" stroke-dashoffset="5"/>
<path class="l dl" d="M999 717 L753.5 840.5" stroke-dasharray="27 14.3"/>
</g>
<g id="ctrlbox" transform="translate(520,500) scale(0.25)">
<!-- outer box -->
<path class="w" d="M258 478 L800 245 L868 265 L886 415 L640 522 L420 614 L332 656 L272 628Z"/>
<path class="l" d="M258 478 L318 498 L332 656 M318 498 L806 288 L868 265 M806 288 L822 400 L886 415"/>
<path class="l" d="M326 502 L798 298 L812 396"/>
<!-- inner back wall bottom edge -->
<path class="l" d="M628 474 L822 400 M634 484 L816 414 L880 428"/>
<path class="l" d="M640 522 L886 415"/>
<circle class="l" cx="686" cy="388" r="21"/>
<!-- module -->
<path class="h" d="M318 498 L392 466 L412 480 L420 500"/>
<path class="l" d="M392 466 L516 436 L552 470 L612 490 L626 522 L420 614"/>
<path class="h" d="M376 522 L520 452 L556 472 M376 522 L392 590 L420 614 M392 590 L600 500 L612 490"/>
<path class="l" d="M384 540 L546 470 M388 560 L560 486 M390 576 L596 494 M412 480 L520 452 M420 500 L376 522"/>
<path class="h" d="M326 520 L370 504 L376 522 M340 640 L330 520 M350 610 L400 600 L392 590"/>
<path class="l" d="M346 520 L356 610 M332 656 L350 610"/>
<path class="k" d="M598 372 l8 -3 l2 4 l-8 3Z M578 382 l8 -3 l2 4 l-8 3Z M796 292 l8 -3 l2 4 l-8 3Z M790 462 l8 -3 l2 4 l-8 3Z"/>
<!-- panel 29 -->
<path class="w" d="M450 650 L1076 385 L1110 400 Q1160 470 1195 545 L1205 750 L590 1005 L580 820 Q570 730 475 642Z"/>
<path class="l" d="M476 642 L1100 398 M462 650 L476 642"/>
<path class="l" d="M580 795 L1192 545 M582 818 L1196 566"/>
<path class="t" d="M581 806 L1194 556"/>
</g>
<g id="comps" transform="translate(620,600) scale(0.25)">
<!-- 29.1 -->
<ellipse class="k" cx="360" cy="708" rx="29" ry="30"/>
<ellipse cx="368" cy="706" rx="17" ry="19" fill="#fff"/><ellipse cx="370" cy="708" rx="11" ry="13" fill="#555"/>
<path d="M336 694 Q344 680 360 680 M334 712 Q340 730 356 736" stroke="#fff" stroke-width=".7" fill="none"/>
<!-- 29.2 -->
<path class="w" style="stroke-width:1.5" d="M416 652 Q416 646 424 644 L484 628 Q494 628 496 636 L500 680 Q500 688 492 690 L434 706 Q424 706 422 698Z"/>
<path class="l" d="M424 652 L488 634 L492 682 L430 698Z"/>
<path class="h" d="M444 664 L480 654 L482 676 L448 686Z"/>
<path class="k" d="M496 650 l8 -2 l2 10 l-8 2Z M414 676 l6 -2 l2 10 l-6 2Z"/>
<!-- 29.3 -->
<ellipse class="w" style="stroke-width:1.6" cx="592" cy="610" rx="27" ry="30"/>
<ellipse class="h" cx="594" cy="612" rx="18" ry="21"/>
<ellipse class="l" cx="590" cy="606" rx="22" ry="25"/>
<!-- 29.4 a,b -->
<g id="s294">
<path class="k" d="M668 548 L690 530 L720 526 L742 560 L738 596 L700 610 L676 600Z"/>
<ellipse cx="712" cy="566" rx="24" ry="30" fill="#fff" stroke="#1c1c1c" stroke-width="1"/>
<path class="h" d="M700 540 L716 596 M690 560 L730 552"/>
<path d="M676 560 L690 552 L694 590 L682 592Z" fill="#fff"/>
</g>
<use href="#s294" x="95" y="-42"/>
<!-- 29.5 -->
<path class="k" d="M868 450 L900 418 L950 410 L958 440 L930 470 L890 540 L876 530Z"/>
<path d="M890 440 L912 424 L940 420 L944 436 L900 470Z" fill="#fff"/>
<ellipse class="w" style="stroke-width:2" cx="932" cy="488" rx="40" ry="46" transform="rotate(-15 932 488)"/>
<ellipse class="l" cx="934" cy="490" rx="30" ry="36" transform="rotate(-15 932 488)"/>
<path class="h" d="M922 486 L950 478 L954 498 L926 506Z"/>
<!-- 29.6 -->
<path class="w" style="stroke-width:1.4" d="M990 396 L1040 370 L1082 384 L1086 432 L1040 462 L996 446Z"/>
<path class="k" d="M1020 384 L1044 374 L1078 386 L1082 430 L1052 448 L1048 410 L1020 400Z"/>
<path d="M1050 392 l10 -4 l2 20 l-10 4Z M1066 398 l8 -3 l2 20 l-8 3Z M1056 424 l6 -2 l1 12 l-6 3Z M1070 420 l6 -2 l1 10 l-6 3Z" fill="#fff"/>
<path class="l" d="M996 446 L1000 402 L1040 384 M1000 402 L990 396 M1010 410 L1012 446 M1026 404 L1028 452"/>
<!-- 29.7 -->
<ellipse class="k" cx="1112" cy="570" rx="13" ry="10" transform="rotate(20 1112 570)"/>
</g>
<g id="compl">
<text x="708.6" y="794" textLength="11.4" lengthAdjust="spacingAndGlyphs">29.1</text><path class="l" d="M714 785 L714.6 787"/>
<text x="732.6" y="785.6" textLength="11.4" lengthAdjust="spacingAndGlyphs">29.2</text><path class="l" d="M737.6 777 L738 779"/>
<text x="763.4" y="772.4" textLength="11.4" lengthAdjust="spacingAndGlyphs">29.3</text><path class="l" d="M768.4 760.6 L768.8 765"/>
<text x="795" y="762.6" textLength="11.4" lengthAdjust="spacingAndGlyphs">29.4</text><path class="l" d="M799.6 753 L800 755.6"/>
<text x="818.4" y="753" textLength="11.4" lengthAdjust="spacingAndGlyphs">29.4</text><path class="l" d="M823.6 743 L824 746"/>
<text x="849.6" y="744.4" textLength="11.4" lengthAdjust="spacingAndGlyphs">29.5</text><path class="l" d="M855 732.6 L855.6 736.6"/>
<text x="880.6" y="725.6" textLength="11.4" lengthAdjust="spacingAndGlyphs">29.6</text><path class="l" d="M886 715.6 L886.4 718"/>
<text x="894.4" y="756" textLength="11.4" lengthAdjust="spacingAndGlyphs">29.7</text><path class="l" d="M899.6 746 L900 748"/>
<text x="642.4" y="755" textLength="6.0" lengthAdjust="spacingAndGlyphs">29</text><path class="l" d="M645 741.6 L645 746"/>
</g>

<!-- 80_mounts.svg -->
<defs>
<g id="m9" transform="scale(0.188)"><g transform="translate(-190,-425)">
<path class="w" style="stroke-width:1.4" d="M115 415 L135 385 L170 360 L205 355 L235 380 L275 425 L270 445 L215 485 L150 480 L125 450Z"/>
<path class="l" d="M135 385 L160 442 L208 428 M160 442 L150 480 M222 424 L270 430 M235 380 L225 420"/>
<path class="w" d="M207 366 L222 366 L222 452 L207 452Z"/>
<path class="l" d="M125 450 L160 462 L215 485 M160 462 L215 450 L270 445"/>
<path class="h" d="M186 484 L188 496 L196 496 L196 486 M206 484 L208 496 L216 494 L214 484"/>
</g></g>
<g id="m40" transform="scale(0.188)"><g transform="translate(-465,-600)">
<path class="w" d="M436 522 Q444 514 452 522 L452 590 L436 590Z"/>
<path class="w" style="stroke-width:1.4" d="M404 556 L420 566 L420 590 L440 612 L424 600 L404 580Z"/>
<path class="l" d="M410 548 L418 560"/>
<path class="w" style="stroke-width:1.4" d="M440 590 L506 578 L536 650 L470 692 L420 666 L432 652 L452 660Z"/>
<path class="l" d="M452 660 L470 692 M452 660 L520 626 M470 606 L490 652 M486 600 L506 644 M440 590 L452 660"/>
<path class="k" d="M500 576 l8 -2 l4 8 l-8 2Z M462 682 l8 4 l-2 8 l-8 -4Z"/>
</g></g>
</defs>
<g id="mounts">
<use href="#nut" x="361.4" y="683.2"/><path class="l" d="M352.4 683.2 L357.4 683.2"/>
<text x="345.0" y="686.6" textLength="6.0" lengthAdjust="spacingAndGlyphs">22</text>
<use href="#nut" x="466.3" y="646.4"/><path class="l" d="M457.3 646.4 L462.3 646.4"/>
<text x="449.9" y="649.8" textLength="6.0" lengthAdjust="spacingAndGlyphs">22</text>
<use href="#nut" x="508.6" y="676.6"/><path class="l" d="M499.6 676.6 L504.6 676.6"/>
<text x="492.2" y="680.0" textLength="6.0" lengthAdjust="spacingAndGlyphs">22</text>
<use href="#nut" x="404.1" y="720.3"/><path class="l" d="M395.1 720.3 L400.1 720.3"/>
<text x="387.7" y="723.7" textLength="6.0" lengthAdjust="spacingAndGlyphs">22</text>
<use href="#nut" x="356.1" y="733.8"/><path class="l" d="M347.1 733.8 L352.1 733.8"/>
<text x="339.7" y="737.2" textLength="6.0" lengthAdjust="spacingAndGlyphs">10</text>
<use href="#nut" x="460.1" y="698.1"/><path class="l" d="M451.1 698.1 L456.1 698.1"/>
<text x="443.7" y="701.5" textLength="6.0" lengthAdjust="spacingAndGlyphs">10</text>
<use href="#nut" x="510.5" y="732.9"/><path class="l" d="M501.5 732.9 L506.5 732.9"/>
<text x="494.1" y="736.3" textLength="6.0" lengthAdjust="spacingAndGlyphs">10</text>
<use href="#nut" x="407.4" y="769.2"/><path class="l" d="M398.4 769.2 L403.4 769.2"/>
<text x="391.0" y="772.6" textLength="6.0" lengthAdjust="spacingAndGlyphs">10</text>
<use href="#m9" x="355.7" y="709.9"/><path class="l" d="M336.1 708.0 L340.5 708.0"/>
<text x="331.9" y="711.6" textLength="3.0" lengthAdjust="spacingAndGlyphs">9</text>
<use href="#m9" x="460.7" y="670.4"/><path class="l" d="M440.1 669.5 L444.5 669.5"/>
<text x="435.9" y="673.1" textLength="3.0" lengthAdjust="spacingAndGlyphs">9</text>
<use href="#m40" x="407.4" y="742.8"/><path class="l" d="M389.8 740.0 L395.8 740.0"/>
<text x="382.2" y="743.6" textLength="6.0" lengthAdjust="spacingAndGlyphs">40</text>
<use href="#m40" x="512.4" y="703.3"/><path class="l" d="M494.6 701.8 L500.6 701.8"/>
<text x="487.0" y="705.4" textLength="6.0" lengthAdjust="spacingAndGlyphs">40</text>
</g>

</svg>
</body></html>
